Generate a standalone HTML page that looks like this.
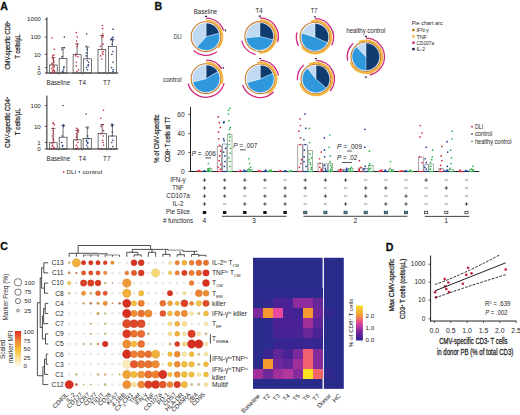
<!DOCTYPE html>
<html><head><meta charset="utf-8"><style>
html,body{margin:0;padding:0;background:#fff;width:520px;height:415px;overflow:hidden}
svg{display:block}
text{font-family:"Liberation Sans", sans-serif}
</style></head><body>
<svg width="520" height="415" viewBox="0 0 520 415">
<rect width="520" height="415" fill="#fff"/>
<text x="0.20" y="9.60" font-size="10.6" text-anchor="start" fill="#111" stroke="#111" stroke-width="0.3" font-weight="bold" >A</text>
<text x="154.60" y="9.90" font-size="10.6" text-anchor="start" fill="#111" stroke="#111" stroke-width="0.3" font-weight="bold" >B</text>
<text x="0.30" y="250.00" font-size="10.6" text-anchor="start" fill="#111" stroke="#111" stroke-width="0.3" font-weight="bold" >C</text>
<text x="385.70" y="250.90" font-size="10.6" text-anchor="start" fill="#111" stroke="#111" stroke-width="0.3" font-weight="bold" >D</text>
<line x1="46.90" y1="17.30" x2="46.90" y2="73.40" stroke="#222" stroke-width="1.0" />
<line x1="46.40" y1="73.00" x2="118.20" y2="73.00" stroke="#222" stroke-width="1.0" />
<line x1="44.70" y1="73.00" x2="46.90" y2="73.00" stroke="#222" stroke-width="0.7" />
<text x="40.80" y="75.20" font-size="6.2" text-anchor="end" fill="#262626" >0</text>
<line x1="44.70" y1="67.61" x2="46.90" y2="67.61" stroke="#222" stroke-width="0.7" />
<text x="40.80" y="69.81" font-size="6.2" text-anchor="end" fill="#262626" >1</text>
<line x1="44.70" y1="54.36" x2="46.90" y2="54.36" stroke="#222" stroke-width="0.7" />
<text x="40.80" y="56.56" font-size="6.2" text-anchor="end" fill="#262626" >10</text>
<line x1="44.70" y1="37.12" x2="46.90" y2="37.12" stroke="#222" stroke-width="0.7" />
<text x="40.80" y="39.32" font-size="6.2" text-anchor="end" fill="#262626" >100</text>
<line x1="44.70" y1="19.29" x2="46.90" y2="19.29" stroke="#222" stroke-width="0.7" />
<text x="40.80" y="21.49" font-size="6.2" text-anchor="end" fill="#262626" >1000</text>
<line x1="58.30" y1="73.00" x2="58.30" y2="74.60" stroke="#222" stroke-width="0.6" />
<line x1="82.30" y1="73.00" x2="82.30" y2="74.60" stroke="#222" stroke-width="0.6" />
<line x1="107.00" y1="73.00" x2="107.00" y2="74.60" stroke="#222" stroke-width="0.6" />
<line x1="53.40" y1="65.00" x2="53.40" y2="57.50" stroke="#333" stroke-width="0.7" />
<line x1="51.40" y1="57.50" x2="55.40" y2="57.50" stroke="#333" stroke-width="0.7" />
<rect x="49.60" y="65.00" width="7.60" height="8.00" fill="none" stroke="#2a2a2a" stroke-width="0.65" />
<line x1="63.05" y1="58.50" x2="63.05" y2="47.60" stroke="#333" stroke-width="0.7" />
<line x1="61.05" y1="47.60" x2="65.05" y2="47.60" stroke="#333" stroke-width="0.7" />
<rect x="59.20" y="58.50" width="7.70" height="14.50" fill="none" stroke="#2a2a2a" stroke-width="0.65" />
<line x1="77.10" y1="54.70" x2="77.10" y2="43.90" stroke="#333" stroke-width="0.7" />
<line x1="75.10" y1="43.90" x2="79.10" y2="43.90" stroke="#333" stroke-width="0.7" />
<rect x="73.10" y="54.70" width="8.00" height="18.30" fill="none" stroke="#2a2a2a" stroke-width="0.65" />
<line x1="87.40" y1="58.80" x2="87.40" y2="47.00" stroke="#333" stroke-width="0.7" />
<line x1="85.40" y1="47.00" x2="89.40" y2="47.00" stroke="#333" stroke-width="0.7" />
<rect x="83.40" y="58.80" width="8.00" height="14.20" fill="none" stroke="#2a2a2a" stroke-width="0.65" />
<line x1="101.90" y1="49.40" x2="101.90" y2="35.50" stroke="#333" stroke-width="0.7" />
<line x1="99.90" y1="35.50" x2="103.90" y2="35.50" stroke="#333" stroke-width="0.7" />
<rect x="98.00" y="49.40" width="7.80" height="23.60" fill="none" stroke="#2a2a2a" stroke-width="0.65" />
<line x1="112.35" y1="46.40" x2="112.35" y2="39.50" stroke="#333" stroke-width="0.7" />
<line x1="110.35" y1="39.50" x2="114.35" y2="39.50" stroke="#333" stroke-width="0.7" />
<rect x="108.40" y="46.40" width="7.90" height="26.60" fill="none" stroke="#2a2a2a" stroke-width="0.65" />
<circle cx="52.18" cy="37.93" r="0.80" fill="#c0283c" stroke="none" stroke-width="0.5"/>
<circle cx="54.17" cy="49.33" r="0.80" fill="#c0283c" stroke="none" stroke-width="0.5"/>
<circle cx="53.94" cy="55.10" r="0.80" fill="#c0283c" stroke="none" stroke-width="0.5"/>
<circle cx="52.51" cy="55.92" r="0.80" fill="#c0283c" stroke="none" stroke-width="0.5"/>
<circle cx="53.19" cy="57.87" r="0.80" fill="#c0283c" stroke="none" stroke-width="0.5"/>
<circle cx="53.06" cy="59.07" r="0.80" fill="#c0283c" stroke="none" stroke-width="0.5"/>
<circle cx="53.62" cy="60.49" r="0.80" fill="#c0283c" stroke="none" stroke-width="0.5"/>
<circle cx="54.01" cy="62.22" r="0.80" fill="#c0283c" stroke="none" stroke-width="0.5"/>
<circle cx="52.06" cy="63.26" r="0.80" fill="#c0283c" stroke="none" stroke-width="0.5"/>
<circle cx="51.88" cy="64.46" r="0.80" fill="#c0283c" stroke="none" stroke-width="0.5"/>
<circle cx="54.14" cy="65.88" r="0.80" fill="#c0283c" stroke="none" stroke-width="0.5"/>
<circle cx="53.01" cy="66.87" r="0.80" fill="#c0283c" stroke="none" stroke-width="0.5"/>
<circle cx="53.93" cy="67.61" r="0.80" fill="#c0283c" stroke="none" stroke-width="0.5"/>
<circle cx="51.81" cy="68.43" r="0.80" fill="#c0283c" stroke="none" stroke-width="0.5"/>
<circle cx="53.05" cy="69.85" r="0.80" fill="#c0283c" stroke="none" stroke-width="0.5"/>
<circle cx="53.82" cy="70.38" r="0.80" fill="#c0283c" stroke="none" stroke-width="0.5"/>
<circle cx="52.44" cy="70.96" r="0.80" fill="#c0283c" stroke="none" stroke-width="0.5"/>
<circle cx="54.45" cy="71.58" r="0.80" fill="#c0283c" stroke="none" stroke-width="0.5"/>
<circle cx="54.32" cy="72.26" r="0.80" fill="#c0283c" stroke="none" stroke-width="0.5"/>
<circle cx="51.89" cy="73.00" r="0.80" fill="#c0283c" stroke="none" stroke-width="0.5"/>
<circle cx="64.38" cy="37.12" r="0.80" fill="#1f3f78" stroke="none" stroke-width="0.5"/>
<circle cx="64.35" cy="47.67" r="0.80" fill="#1f3f78" stroke="none" stroke-width="0.5"/>
<circle cx="61.86" cy="49.33" r="0.80" fill="#1f3f78" stroke="none" stroke-width="0.5"/>
<circle cx="61.94" cy="56.83" r="0.80" fill="#1f3f78" stroke="none" stroke-width="0.5"/>
<circle cx="64.04" cy="66.87" r="0.80" fill="#1f3f78" stroke="none" stroke-width="0.5"/>
<circle cx="63.76" cy="67.61" r="0.80" fill="#1f3f78" stroke="none" stroke-width="0.5"/>
<circle cx="63.58" cy="69.85" r="0.80" fill="#1f3f78" stroke="none" stroke-width="0.5"/>
<circle cx="62.56" cy="71.58" r="0.80" fill="#1f3f78" stroke="none" stroke-width="0.5"/>
<circle cx="63.40" cy="72.26" r="0.80" fill="#1f3f78" stroke="none" stroke-width="0.5"/>
<circle cx="76.27" cy="32.59" r="0.80" fill="#c0283c" stroke="none" stroke-width="0.5"/>
<circle cx="77.12" cy="37.12" r="0.80" fill="#c0283c" stroke="none" stroke-width="0.5"/>
<circle cx="76.64" cy="41.04" r="0.80" fill="#c0283c" stroke="none" stroke-width="0.5"/>
<circle cx="77.29" cy="44.13" r="0.80" fill="#c0283c" stroke="none" stroke-width="0.5"/>
<circle cx="77.35" cy="46.30" r="0.80" fill="#c0283c" stroke="none" stroke-width="0.5"/>
<circle cx="75.78" cy="54.36" r="0.80" fill="#c0283c" stroke="none" stroke-width="0.5"/>
<circle cx="75.64" cy="55.92" r="0.80" fill="#c0283c" stroke="none" stroke-width="0.5"/>
<circle cx="77.94" cy="56.83" r="0.80" fill="#c0283c" stroke="none" stroke-width="0.5"/>
<circle cx="76.33" cy="62.22" r="0.80" fill="#c0283c" stroke="none" stroke-width="0.5"/>
<circle cx="76.26" cy="65.88" r="0.80" fill="#c0283c" stroke="none" stroke-width="0.5"/>
<circle cx="78.39" cy="69.85" r="0.80" fill="#c0283c" stroke="none" stroke-width="0.5"/>
<circle cx="76.92" cy="71.58" r="0.80" fill="#c0283c" stroke="none" stroke-width="0.5"/>
<circle cx="86.66" cy="34.00" r="0.80" fill="#1f3f78" stroke="none" stroke-width="0.5"/>
<circle cx="86.29" cy="46.30" r="0.80" fill="#1f3f78" stroke="none" stroke-width="0.5"/>
<circle cx="87.11" cy="49.33" r="0.80" fill="#1f3f78" stroke="none" stroke-width="0.5"/>
<circle cx="86.43" cy="53.06" r="0.80" fill="#1f3f78" stroke="none" stroke-width="0.5"/>
<circle cx="86.19" cy="55.92" r="0.80" fill="#1f3f78" stroke="none" stroke-width="0.5"/>
<circle cx="87.12" cy="60.49" r="0.80" fill="#1f3f78" stroke="none" stroke-width="0.5"/>
<circle cx="88.57" cy="62.22" r="0.80" fill="#1f3f78" stroke="none" stroke-width="0.5"/>
<circle cx="88.24" cy="64.46" r="0.80" fill="#1f3f78" stroke="none" stroke-width="0.5"/>
<circle cx="88.14" cy="65.88" r="0.80" fill="#1f3f78" stroke="none" stroke-width="0.5"/>
<circle cx="86.62" cy="67.61" r="0.80" fill="#1f3f78" stroke="none" stroke-width="0.5"/>
<circle cx="87.50" cy="69.85" r="0.80" fill="#1f3f78" stroke="none" stroke-width="0.5"/>
<circle cx="102.24" cy="25.49" r="0.80" fill="#c0283c" stroke="none" stroke-width="0.5"/>
<circle cx="102.58" cy="28.63" r="0.80" fill="#c0283c" stroke="none" stroke-width="0.5"/>
<circle cx="102.73" cy="34.00" r="0.80" fill="#c0283c" stroke="none" stroke-width="0.5"/>
<circle cx="103.14" cy="35.72" r="0.80" fill="#c0283c" stroke="none" stroke-width="0.5"/>
<circle cx="102.57" cy="37.12" r="0.80" fill="#c0283c" stroke="none" stroke-width="0.5"/>
<circle cx="103.08" cy="44.13" r="0.80" fill="#c0283c" stroke="none" stroke-width="0.5"/>
<circle cx="100.58" cy="46.30" r="0.80" fill="#c0283c" stroke="none" stroke-width="0.5"/>
<circle cx="101.80" cy="49.33" r="0.80" fill="#c0283c" stroke="none" stroke-width="0.5"/>
<circle cx="103.14" cy="51.45" r="0.80" fill="#c0283c" stroke="none" stroke-width="0.5"/>
<circle cx="102.32" cy="53.06" r="0.80" fill="#c0283c" stroke="none" stroke-width="0.5"/>
<circle cx="103.02" cy="54.36" r="0.80" fill="#c0283c" stroke="none" stroke-width="0.5"/>
<circle cx="100.82" cy="55.92" r="0.80" fill="#c0283c" stroke="none" stroke-width="0.5"/>
<circle cx="101.81" cy="59.07" r="0.80" fill="#c0283c" stroke="none" stroke-width="0.5"/>
<circle cx="113.12" cy="29.17" r="0.80" fill="#1f3f78" stroke="none" stroke-width="0.5"/>
<circle cx="113.20" cy="37.12" r="0.80" fill="#1f3f78" stroke="none" stroke-width="0.5"/>
<circle cx="112.26" cy="37.93" r="0.80" fill="#1f3f78" stroke="none" stroke-width="0.5"/>
<circle cx="111.63" cy="38.84" r="0.80" fill="#1f3f78" stroke="none" stroke-width="0.5"/>
<circle cx="110.90" cy="39.86" r="0.80" fill="#1f3f78" stroke="none" stroke-width="0.5"/>
<circle cx="112.76" cy="41.04" r="0.80" fill="#1f3f78" stroke="none" stroke-width="0.5"/>
<circle cx="112.22" cy="44.13" r="0.80" fill="#1f3f78" stroke="none" stroke-width="0.5"/>
<circle cx="113.03" cy="51.45" r="0.80" fill="#1f3f78" stroke="none" stroke-width="0.5"/>
<circle cx="111.94" cy="54.36" r="0.80" fill="#1f3f78" stroke="none" stroke-width="0.5"/>
<circle cx="113.06" cy="62.22" r="0.80" fill="#1f3f78" stroke="none" stroke-width="0.5"/>
<circle cx="111.66" cy="67.61" r="0.80" fill="#1f3f78" stroke="none" stroke-width="0.5"/>
<circle cx="113.15" cy="69.85" r="0.80" fill="#1f3f78" stroke="none" stroke-width="0.5"/>
<circle cx="112.94" cy="71.58" r="0.80" fill="#1f3f78" stroke="none" stroke-width="0.5"/>
<text x="58.30" y="85.40" font-size="6.3" text-anchor="middle" fill="#262626" textLength="23.5" lengthAdjust="spacingAndGlyphs" >Baseline</text>
<text x="82.30" y="85.40" font-size="6.3" text-anchor="middle" fill="#262626" >T4</text>
<text x="106.80" y="85.40" font-size="6.3" text-anchor="middle" fill="#262626" >T7</text>
<text x="10.30" y="45.30" font-size="7.1" text-anchor="middle" fill="#262626" stroke="#262626" stroke-width="0.24" textLength="48.5" lengthAdjust="spacingAndGlyphs" transform="rotate(-90 10.30 45.30)" >CMV-specific CD8<tspan font-size="4.2" baseline-shift="2.4">+</tspan></text>
<text x="20.40" y="46.40" font-size="7.1" text-anchor="middle" fill="#262626" stroke="#262626" stroke-width="0.24" textLength="24.2" lengthAdjust="spacingAndGlyphs" transform="rotate(-90 20.40 46.40)" >T cells/µL</text>
<line x1="46.90" y1="95.60" x2="46.90" y2="149.40" stroke="#222" stroke-width="1.0" />
<line x1="46.40" y1="149.00" x2="118.20" y2="149.00" stroke="#222" stroke-width="1.0" />
<line x1="44.70" y1="149.00" x2="46.90" y2="149.00" stroke="#222" stroke-width="0.7" />
<text x="40.80" y="151.20" font-size="6.2" text-anchor="end" fill="#262626" >0</text>
<line x1="44.70" y1="142.47" x2="46.90" y2="142.47" stroke="#222" stroke-width="0.7" />
<text x="40.80" y="144.67" font-size="6.2" text-anchor="end" fill="#262626" >1</text>
<line x1="44.70" y1="126.40" x2="46.90" y2="126.40" stroke="#222" stroke-width="0.7" />
<text x="40.80" y="128.60" font-size="6.2" text-anchor="end" fill="#262626" >10</text>
<line x1="44.70" y1="105.51" x2="46.90" y2="105.51" stroke="#222" stroke-width="0.7" />
<text x="40.80" y="107.71" font-size="6.2" text-anchor="end" fill="#262626" >100</text>
<line x1="58.30" y1="149.00" x2="58.30" y2="150.60" stroke="#222" stroke-width="0.6" />
<line x1="82.30" y1="149.00" x2="82.30" y2="150.60" stroke="#222" stroke-width="0.6" />
<line x1="107.00" y1="149.00" x2="107.00" y2="150.60" stroke="#222" stroke-width="0.6" />
<line x1="53.25" y1="142.70" x2="53.25" y2="128.50" stroke="#333" stroke-width="0.7" />
<line x1="51.25" y1="128.50" x2="55.25" y2="128.50" stroke="#333" stroke-width="0.7" />
<rect x="49.40" y="142.70" width="7.70" height="6.30" fill="none" stroke="#2a2a2a" stroke-width="0.65" />
<line x1="63.10" y1="137.20" x2="63.10" y2="125.50" stroke="#333" stroke-width="0.7" />
<line x1="61.10" y1="125.50" x2="65.10" y2="125.50" stroke="#333" stroke-width="0.7" />
<rect x="59.20" y="137.20" width="7.80" height="11.80" fill="none" stroke="#2a2a2a" stroke-width="0.65" />
<line x1="77.30" y1="139.80" x2="77.30" y2="130.50" stroke="#333" stroke-width="0.7" />
<line x1="75.30" y1="130.50" x2="79.30" y2="130.50" stroke="#333" stroke-width="0.7" />
<rect x="73.50" y="139.80" width="7.60" height="9.20" fill="none" stroke="#2a2a2a" stroke-width="0.65" />
<line x1="87.20" y1="138.50" x2="87.20" y2="127.00" stroke="#333" stroke-width="0.7" />
<line x1="85.20" y1="127.00" x2="89.20" y2="127.00" stroke="#333" stroke-width="0.7" />
<rect x="83.10" y="138.50" width="8.20" height="10.50" fill="none" stroke="#2a2a2a" stroke-width="0.65" />
<line x1="102.20" y1="133.60" x2="102.20" y2="124.50" stroke="#333" stroke-width="0.7" />
<line x1="100.20" y1="124.50" x2="104.20" y2="124.50" stroke="#333" stroke-width="0.7" />
<rect x="98.10" y="133.60" width="8.20" height="15.40" fill="none" stroke="#2a2a2a" stroke-width="0.65" />
<line x1="112.40" y1="136.00" x2="112.40" y2="125.00" stroke="#333" stroke-width="0.7" />
<line x1="110.40" y1="125.00" x2="114.40" y2="125.00" stroke="#333" stroke-width="0.7" />
<rect x="108.50" y="136.00" width="7.80" height="13.00" fill="none" stroke="#2a2a2a" stroke-width="0.65" />
<circle cx="53.07" cy="122.87" r="0.80" fill="#c0283c" stroke="none" stroke-width="0.5"/>
<circle cx="53.37" cy="123.48" r="0.80" fill="#c0283c" stroke="none" stroke-width="0.5"/>
<circle cx="54.39" cy="124.83" r="0.80" fill="#c0283c" stroke="none" stroke-width="0.5"/>
<circle cx="53.10" cy="128.29" r="0.80" fill="#c0283c" stroke="none" stroke-width="0.5"/>
<circle cx="53.22" cy="130.66" r="0.80" fill="#c0283c" stroke="none" stroke-width="0.5"/>
<circle cx="53.44" cy="133.83" r="0.80" fill="#c0283c" stroke="none" stroke-width="0.5"/>
<circle cx="52.32" cy="135.94" r="0.80" fill="#c0283c" stroke="none" stroke-width="0.5"/>
<circle cx="53.23" cy="138.65" r="0.80" fill="#c0283c" stroke="none" stroke-width="0.5"/>
<circle cx="53.56" cy="140.36" r="0.80" fill="#c0283c" stroke="none" stroke-width="0.5"/>
<circle cx="54.02" cy="142.47" r="0.80" fill="#c0283c" stroke="none" stroke-width="0.5"/>
<circle cx="52.06" cy="143.46" r="0.80" fill="#c0283c" stroke="none" stroke-width="0.5"/>
<circle cx="52.65" cy="145.18" r="0.80" fill="#c0283c" stroke="none" stroke-width="0.5"/>
<circle cx="52.05" cy="146.53" r="0.80" fill="#c0283c" stroke="none" stroke-width="0.5"/>
<circle cx="54.07" cy="147.28" r="0.80" fill="#c0283c" stroke="none" stroke-width="0.5"/>
<circle cx="53.74" cy="148.10" r="0.80" fill="#c0283c" stroke="none" stroke-width="0.5"/>
<circle cx="51.92" cy="149.00" r="0.80" fill="#c0283c" stroke="none" stroke-width="0.5"/>
<circle cx="63.03" cy="105.51" r="0.80" fill="#1f3f78" stroke="none" stroke-width="0.5"/>
<circle cx="63.54" cy="124.83" r="0.80" fill="#1f3f78" stroke="none" stroke-width="0.5"/>
<circle cx="63.57" cy="126.40" r="0.80" fill="#1f3f78" stroke="none" stroke-width="0.5"/>
<circle cx="62.10" cy="135.94" r="0.80" fill="#1f3f78" stroke="none" stroke-width="0.5"/>
<circle cx="61.73" cy="142.47" r="0.80" fill="#1f3f78" stroke="none" stroke-width="0.5"/>
<circle cx="62.75" cy="145.18" r="0.80" fill="#1f3f78" stroke="none" stroke-width="0.5"/>
<circle cx="62.47" cy="146.53" r="0.80" fill="#1f3f78" stroke="none" stroke-width="0.5"/>
<circle cx="63.97" cy="149.00" r="0.80" fill="#1f3f78" stroke="none" stroke-width="0.5"/>
<circle cx="76.63" cy="128.29" r="0.80" fill="#c0283c" stroke="none" stroke-width="0.5"/>
<circle cx="77.82" cy="129.40" r="0.80" fill="#c0283c" stroke="none" stroke-width="0.5"/>
<circle cx="77.82" cy="130.66" r="0.80" fill="#c0283c" stroke="none" stroke-width="0.5"/>
<circle cx="78.28" cy="132.11" r="0.80" fill="#c0283c" stroke="none" stroke-width="0.5"/>
<circle cx="76.42" cy="133.83" r="0.80" fill="#c0283c" stroke="none" stroke-width="0.5"/>
<circle cx="76.55" cy="135.94" r="0.80" fill="#c0283c" stroke="none" stroke-width="0.5"/>
<circle cx="76.31" cy="137.19" r="0.80" fill="#c0283c" stroke="none" stroke-width="0.5"/>
<circle cx="76.53" cy="140.36" r="0.80" fill="#c0283c" stroke="none" stroke-width="0.5"/>
<circle cx="77.96" cy="142.47" r="0.80" fill="#c0283c" stroke="none" stroke-width="0.5"/>
<circle cx="76.26" cy="145.18" r="0.80" fill="#c0283c" stroke="none" stroke-width="0.5"/>
<circle cx="77.39" cy="147.28" r="0.80" fill="#c0283c" stroke="none" stroke-width="0.5"/>
<circle cx="76.50" cy="149.00" r="0.80" fill="#c0283c" stroke="none" stroke-width="0.5"/>
<circle cx="86.10" cy="114.00" r="0.80" fill="#1f3f78" stroke="none" stroke-width="0.5"/>
<circle cx="87.77" cy="128.29" r="0.80" fill="#1f3f78" stroke="none" stroke-width="0.5"/>
<circle cx="87.63" cy="135.94" r="0.80" fill="#1f3f78" stroke="none" stroke-width="0.5"/>
<circle cx="88.43" cy="138.65" r="0.80" fill="#1f3f78" stroke="none" stroke-width="0.5"/>
<circle cx="86.56" cy="140.36" r="0.80" fill="#1f3f78" stroke="none" stroke-width="0.5"/>
<circle cx="86.52" cy="141.57" r="0.80" fill="#1f3f78" stroke="none" stroke-width="0.5"/>
<circle cx="87.86" cy="142.47" r="0.80" fill="#1f3f78" stroke="none" stroke-width="0.5"/>
<circle cx="87.64" cy="143.46" r="0.80" fill="#1f3f78" stroke="none" stroke-width="0.5"/>
<circle cx="86.65" cy="145.18" r="0.80" fill="#1f3f78" stroke="none" stroke-width="0.5"/>
<circle cx="87.72" cy="147.28" r="0.80" fill="#1f3f78" stroke="none" stroke-width="0.5"/>
<circle cx="103.50" cy="110.26" r="0.80" fill="#c0283c" stroke="none" stroke-width="0.5"/>
<circle cx="100.83" cy="118.30" r="0.80" fill="#c0283c" stroke="none" stroke-width="0.5"/>
<circle cx="102.86" cy="124.83" r="0.80" fill="#c0283c" stroke="none" stroke-width="0.5"/>
<circle cx="101.24" cy="126.40" r="0.80" fill="#c0283c" stroke="none" stroke-width="0.5"/>
<circle cx="103.56" cy="130.66" r="0.80" fill="#c0283c" stroke="none" stroke-width="0.5"/>
<circle cx="100.85" cy="133.83" r="0.80" fill="#c0283c" stroke="none" stroke-width="0.5"/>
<circle cx="103.26" cy="135.94" r="0.80" fill="#c0283c" stroke="none" stroke-width="0.5"/>
<circle cx="102.71" cy="140.36" r="0.80" fill="#c0283c" stroke="none" stroke-width="0.5"/>
<circle cx="103.20" cy="142.47" r="0.80" fill="#c0283c" stroke="none" stroke-width="0.5"/>
<circle cx="103.60" cy="145.18" r="0.80" fill="#c0283c" stroke="none" stroke-width="0.5"/>
<circle cx="101.47" cy="149.00" r="0.80" fill="#c0283c" stroke="none" stroke-width="0.5"/>
<circle cx="112.01" cy="124.13" r="0.80" fill="#1f3f78" stroke="none" stroke-width="0.5"/>
<circle cx="112.35" cy="124.83" r="0.80" fill="#1f3f78" stroke="none" stroke-width="0.5"/>
<circle cx="112.17" cy="126.40" r="0.80" fill="#1f3f78" stroke="none" stroke-width="0.5"/>
<circle cx="112.25" cy="132.11" r="0.80" fill="#1f3f78" stroke="none" stroke-width="0.5"/>
<circle cx="112.15" cy="135.94" r="0.80" fill="#1f3f78" stroke="none" stroke-width="0.5"/>
<circle cx="112.84" cy="140.36" r="0.80" fill="#1f3f78" stroke="none" stroke-width="0.5"/>
<circle cx="111.72" cy="142.47" r="0.80" fill="#1f3f78" stroke="none" stroke-width="0.5"/>
<circle cx="112.78" cy="146.53" r="0.80" fill="#1f3f78" stroke="none" stroke-width="0.5"/>
<circle cx="111.03" cy="149.00" r="0.80" fill="#1f3f78" stroke="none" stroke-width="0.5"/>
<text x="58.30" y="161.30" font-size="6.3" text-anchor="middle" fill="#262626" textLength="23.5" lengthAdjust="spacingAndGlyphs" >Baseline</text>
<text x="82.30" y="161.30" font-size="6.3" text-anchor="middle" fill="#262626" >T4</text>
<text x="106.80" y="161.30" font-size="6.3" text-anchor="middle" fill="#262626" >T7</text>
<text x="10.30" y="122.40" font-size="7.1" text-anchor="middle" fill="#262626" stroke="#262626" stroke-width="0.24" textLength="50.8" lengthAdjust="spacingAndGlyphs" transform="rotate(-90 10.30 122.40)" >CMV-specific CD4<tspan font-size="4.2" baseline-shift="2.4">+</tspan></text>
<text x="20.40" y="121.70" font-size="7.1" text-anchor="middle" fill="#262626" stroke="#262626" stroke-width="0.24" textLength="27.0" lengthAdjust="spacingAndGlyphs" transform="rotate(-90 20.40 121.70)" >T cells/µL</text>
<circle cx="63.70" cy="171.90" r="0.80" fill="#c0283c" stroke="none" stroke-width="0.5"/>
<text x="66.60" y="174.10" font-size="6.2" text-anchor="start" fill="#262626" >DLI</text>
<circle cx="79.40" cy="171.90" r="0.80" fill="#1f3f78" stroke="none" stroke-width="0.5"/>
<text x="82.50" y="174.10" font-size="6.2" text-anchor="start" fill="#262626" textLength="19.6" lengthAdjust="spacingAndGlyphs" >control</text>
<path d="M206.05,36.70 L206.05,23.00 A13.7,13.7 0 0 1 219.28,33.15 Z" fill="#0f3c70" stroke="#fff" stroke-width="0.3"/>
<path d="M206.05,36.70 L219.28,33.15 A13.7,13.7 0 0 1 196.88,46.88 Z" fill="#2f98dc" stroke="#fff" stroke-width="0.3"/>
<path d="M206.05,36.70 L196.88,46.88 A13.7,13.7 0 0 1 206.05,23.00 Z" fill="#bfdaf2" stroke="#fff" stroke-width="0.3"/>
<circle cx="206.05" cy="36.70" r="14.90" fill="none" stroke="#c47a2a" stroke-width="1.1"/>
<path d="M206.05,20.40 A16.3,16.3 0 0 1 217.97,47.82" fill="none" stroke="#f6b53c" stroke-width="2.0"/>
<path d="M206.05,18.10 A18.6,18.6 0 0 1 223.64,30.64" fill="none" stroke="#d02a7e" stroke-width="1.3"/>
<path d="M216.98,51.75 A18.6,18.6 0 0 1 193.60,50.52" fill="none" stroke="#d02a7e" stroke-width="1.3"/>
<path d="M204.98,16.33 A20.4,20.4 0 0 1 207.12,16.33" fill="none" stroke="#2c1a4d" stroke-width="1.2"/>
<path d="M225.10,29.39 A20.4,20.4 0 0 1 225.75,31.42" fill="none" stroke="#2c1a4d" stroke-width="1.2"/>
<path d="M259.80,36.50 L259.80,22.80 A13.7,13.7 0 0 1 273.09,39.81 Z" fill="#0f3c70" stroke="#fff" stroke-width="0.3"/>
<path d="M259.80,36.50 L273.09,39.81 A13.7,13.7 0 0 1 246.15,37.69 Z" fill="#2f98dc" stroke="#fff" stroke-width="0.3"/>
<path d="M259.80,36.50 L246.15,37.69 A13.7,13.7 0 0 1 259.80,22.80 Z" fill="#bfdaf2" stroke="#fff" stroke-width="0.3"/>
<circle cx="259.80" cy="36.50" r="14.90" fill="none" stroke="#c47a2a" stroke-width="1.1"/>
<path d="M259.80,20.20 A16.3,16.3 0 1 1 259.23,52.79" fill="none" stroke="#f6b53c" stroke-width="2.0"/>
<path d="M259.80,17.90 A18.6,18.6 0 0 1 277.59,41.94" fill="none" stroke="#d02a7e" stroke-width="1.3"/>
<path d="M255.62,54.62 A18.6,18.6 0 0 1 241.68,40.68" fill="none" stroke="#d02a7e" stroke-width="1.3"/>
<path d="M258.73,16.13 A20.4,20.4 0 0 1 260.87,16.13" fill="none" stroke="#2c1a4d" stroke-width="1.2"/>
<path d="M314.95,37.20 L314.95,23.50 A13.7,13.7 0 0 1 327.47,42.77 Z" fill="#0f3c70" stroke="#fff" stroke-width="0.3"/>
<path d="M314.95,37.20 L327.47,42.77 A13.7,13.7 0 0 1 301.92,32.97 Z" fill="#2f98dc" stroke="#fff" stroke-width="0.3"/>
<path d="M314.95,37.20 L301.92,32.97 A13.7,13.7 0 0 1 314.95,23.50 Z" fill="#bfdaf2" stroke="#fff" stroke-width="0.3"/>
<circle cx="314.95" cy="37.20" r="14.90" fill="none" stroke="#c47a2a" stroke-width="1.1"/>
<path d="M311.01,21.38 A16.3,16.3 0 1 1 301.76,46.78" fill="none" stroke="#f6b53c" stroke-width="2.0"/>
<path d="M314.95,18.60 A18.6,18.6 0 0 1 331.67,45.35" fill="none" stroke="#d02a7e" stroke-width="1.3"/>
<path d="M298.53,45.93 A18.6,18.6 0 0 1 296.98,32.39" fill="none" stroke="#d02a7e" stroke-width="1.3"/>
<path d="M314.06,16.82 A20.4,20.4 0 0 1 315.84,16.82" fill="none" stroke="#2c1a4d" stroke-width="1.2"/>
<path d="M206.05,78.70 L206.05,65.00 A13.7,13.7 0 0 1 217.79,71.64 Z" fill="#0f3c70" stroke="#fff" stroke-width="0.3"/>
<path d="M206.05,78.70 L217.79,71.64 A13.7,13.7 0 1 1 192.76,82.01 Z" fill="#2f98dc" stroke="#fff" stroke-width="0.3"/>
<path d="M206.05,78.70 L192.76,82.01 A13.7,13.7 0 0 1 206.05,65.00 Z" fill="#bfdaf2" stroke="#fff" stroke-width="0.3"/>
<circle cx="206.05" cy="78.70" r="14.90" fill="none" stroke="#c47a2a" stroke-width="1.1"/>
<path d="M206.05,62.40 A16.3,16.3 0 0 1 221.55,83.74" fill="none" stroke="#f6b53c" stroke-width="2.0"/>
<path d="M206.05,60.10 A18.6,18.6 0 0 1 221.82,68.84" fill="none" stroke="#d02a7e" stroke-width="1.3"/>
<path d="M224.10,83.20 A18.6,18.6 0 0 1 188.08,83.51" fill="none" stroke="#d02a7e" stroke-width="1.3"/>
<path d="M222.76,67.00 A20.4,20.4 0 0 1 223.89,68.81" fill="none" stroke="#2c1a4d" stroke-width="1.2"/>
<path d="M260.20,78.90 L260.20,65.20 A13.7,13.7 0 0 1 272.81,73.55 Z" fill="#0f3c70" stroke="#fff" stroke-width="0.3"/>
<path d="M260.20,78.90 L272.81,73.55 A13.7,13.7 0 1 1 247.03,82.68 Z" fill="#2f98dc" stroke="#fff" stroke-width="0.3"/>
<path d="M260.20,78.90 L247.03,82.68 A13.7,13.7 0 0 1 260.20,65.20 Z" fill="#bfdaf2" stroke="#fff" stroke-width="0.3"/>
<circle cx="260.20" cy="78.90" r="14.90" fill="none" stroke="#c47a2a" stroke-width="1.1"/>
<path d="M257.37,62.85 A16.3,16.3 0 0 1 267.85,93.29" fill="none" stroke="#f6b53c" stroke-width="2.0"/>
<path d="M260.20,60.30 A18.6,18.6 0 0 1 278.52,75.67" fill="none" stroke="#d02a7e" stroke-width="1.3"/>
<path d="M273.58,91.82 A18.6,18.6 0 0 1 242.61,84.96" fill="none" stroke="#d02a7e" stroke-width="1.3"/>
<path d="M259.31,58.52 A20.4,20.4 0 0 1 261.09,58.52" fill="none" stroke="#2c1a4d" stroke-width="1.2"/>
<path d="M315.95,79.00 L315.95,65.30 A13.7,13.7 0 0 1 326.13,88.17 Z" fill="#0f3c70" stroke="#fff" stroke-width="0.3"/>
<path d="M315.95,79.00 L326.13,88.17 A13.7,13.7 0 1 1 307.52,68.20 Z" fill="#2f98dc" stroke="#fff" stroke-width="0.3"/>
<path d="M315.95,79.00 L307.52,68.20 A13.7,13.7 0 0 1 315.95,65.30 Z" fill="#bfdaf2" stroke="#fff" stroke-width="0.3"/>
<circle cx="315.95" cy="79.00" r="14.90" fill="none" stroke="#c47a2a" stroke-width="1.1"/>
<path d="M309.06,64.23 A16.3,16.3 0 1 1 300.21,83.22" fill="none" stroke="#f6b53c" stroke-width="2.0"/>
<path d="M315.95,60.40 A18.6,18.6 0 0 1 330.20,90.96" fill="none" stroke="#d02a7e" stroke-width="1.3"/>
<path d="M297.40,80.30 A18.6,18.6 0 0 1 303.75,64.96" fill="none" stroke="#d02a7e" stroke-width="1.3"/>
<path d="M315.06,58.62 A20.4,20.4 0 0 1 316.84,58.62" fill="none" stroke="#2c1a4d" stroke-width="1.2"/>
<path d="M365.90,56.80 L365.90,43.10 A13.7,13.7 0 0 1 365.90,70.50 Z" fill="#0f3c70" stroke="#fff" stroke-width="0.3"/>
<path d="M365.90,56.80 L365.90,70.50 A13.7,13.7 0 0 1 356.56,46.78 Z" fill="#2f98dc" stroke="#fff" stroke-width="0.3"/>
<path d="M365.90,56.80 L356.56,46.78 A13.7,13.7 0 0 1 365.90,43.10 Z" fill="#bfdaf2" stroke="#fff" stroke-width="0.3"/>
<circle cx="365.90" cy="56.80" r="14.90" fill="none" stroke="#c47a2a" stroke-width="1.1"/>
<path d="M359.01,42.03 A16.3,16.3 0 1 1 350.58,62.37" fill="none" stroke="#f6b53c" stroke-width="2.0"/>
<path d="M365.90,38.20 A18.6,18.6 0 0 1 369.77,74.99" fill="none" stroke="#d02a7e" stroke-width="1.3"/>
<path d="M347.71,60.67 A18.6,18.6 0 0 1 353.21,43.20" fill="none" stroke="#d02a7e" stroke-width="1.3"/>
<path d="M364.83,36.43 A20.4,20.4 0 0 1 366.97,36.43" fill="none" stroke="#2c1a4d" stroke-width="1.2"/>
<path d="M366.97,77.17 A20.4,20.4 0 0 1 364.83,77.17" fill="none" stroke="#2c1a4d" stroke-width="1.2"/>
<text x="205.50" y="13.50" font-size="7.0" text-anchor="middle" fill="#262626" textLength="23.5" lengthAdjust="spacingAndGlyphs" >Baseline</text>
<text x="259.00" y="13.10" font-size="7.0" text-anchor="middle" fill="#262626" textLength="7.0" lengthAdjust="spacingAndGlyphs" >T4</text>
<text x="314.00" y="13.10" font-size="7.0" text-anchor="middle" fill="#262626" textLength="6.6" lengthAdjust="spacingAndGlyphs" >T7</text>
<text x="181.60" y="38.90" font-size="7.0" text-anchor="end" fill="#262626" textLength="7.8" lengthAdjust="spacingAndGlyphs" >DLI</text>
<text x="181.60" y="81.50" font-size="7.0" text-anchor="end" fill="#262626" textLength="18.5" lengthAdjust="spacingAndGlyphs" >control</text>
<text x="365.80" y="33.40" font-size="7.0" text-anchor="middle" fill="#262626" textLength="39" lengthAdjust="spacingAndGlyphs" >healthy control</text>
<text x="411.70" y="25.30" font-size="6.0" text-anchor="start" fill="#262626" textLength="31" lengthAdjust="spacingAndGlyphs" >Pie chart arc</text>
<rect x="412.20" y="28.80" width="2.50" height="2.40" fill="#c47a2a" stroke="none" stroke-width="0.6" />
<text x="416.40" y="32.20" font-size="6.0" text-anchor="start" fill="#262626" textLength="12.5" lengthAdjust="spacingAndGlyphs" >IFN-γ</text>
<rect x="412.20" y="35.15" width="2.50" height="2.40" fill="#f6b53c" stroke="none" stroke-width="0.6" />
<text x="416.40" y="38.55" font-size="6.0" text-anchor="start" fill="#262626" textLength="10.5" lengthAdjust="spacingAndGlyphs" >TNF</text>
<rect x="412.20" y="41.50" width="2.50" height="2.40" fill="#d02a7e" stroke="none" stroke-width="0.6" />
<text x="416.40" y="44.90" font-size="6.0" text-anchor="start" fill="#262626" textLength="17.8" lengthAdjust="spacingAndGlyphs" >CD107a</text>
<rect x="412.20" y="47.85" width="2.50" height="2.40" fill="#2c1a4d" stroke="none" stroke-width="0.6" />
<text x="416.40" y="51.25" font-size="6.0" text-anchor="start" fill="#262626" textLength="8.6" lengthAdjust="spacingAndGlyphs" >IL-2</text>
<line x1="190.50" y1="106.80" x2="190.50" y2="172.00" stroke="#222" stroke-width="1.0" />
<line x1="190.00" y1="171.50" x2="479.30" y2="171.50" stroke="#222" stroke-width="1.1" />
<line x1="188.30" y1="171.50" x2="190.50" y2="171.50" stroke="#222" stroke-width="0.7" />
<text x="184.70" y="173.80" font-size="6.6" text-anchor="end" fill="#262626" >0</text>
<line x1="188.30" y1="152.50" x2="190.50" y2="152.50" stroke="#222" stroke-width="0.7" />
<text x="184.70" y="154.80" font-size="6.6" text-anchor="end" fill="#262626" >20</text>
<line x1="188.30" y1="133.50" x2="190.50" y2="133.50" stroke="#222" stroke-width="0.7" />
<text x="184.70" y="135.80" font-size="6.6" text-anchor="end" fill="#262626" >40</text>
<line x1="188.30" y1="114.50" x2="190.50" y2="114.50" stroke="#222" stroke-width="0.7" />
<text x="184.70" y="116.80" font-size="6.6" text-anchor="end" fill="#262626" >60</text>
<text x="159.40" y="138.60" font-size="7.4" text-anchor="middle" fill="#262626" stroke="#262626" stroke-width="0.24" textLength="48.4" lengthAdjust="spacingAndGlyphs" transform="rotate(-90 159.40 138.60)" >% of CMV-specific</text>
<text x="169.60" y="139.40" font-size="7.4" text-anchor="middle" fill="#262626" stroke="#262626" stroke-width="0.24" textLength="45.3" lengthAdjust="spacingAndGlyphs" transform="rotate(-90 169.60 139.40)" >CD8<tspan font-size="4.2" baseline-shift="2.4">+</tspan> T cells at T7</text>
<rect x="207.35" y="168.70" width="4.50" height="2.80" fill="#fff" stroke="#5f8a68" stroke-width="0.6" />
<rect x="217.20" y="146.20" width="4.50" height="25.30" fill="#fff" stroke="#806068" stroke-width="0.6" />
<rect x="222.40" y="144.00" width="4.50" height="27.50" fill="#fff" stroke="#5a6a88" stroke-width="0.6" />
<rect x="227.50" y="134.80" width="4.50" height="36.70" fill="#fff" stroke="#5f8a68" stroke-width="0.6" />
<rect x="247.65" y="169.50" width="4.50" height="2.00" fill="#fff" stroke="#5f8a68" stroke-width="0.6" />
<rect x="297.80" y="144.80" width="4.50" height="26.70" fill="#fff" stroke="#806068" stroke-width="0.6" />
<rect x="303.00" y="144.80" width="4.50" height="26.70" fill="#fff" stroke="#5a6a88" stroke-width="0.6" />
<rect x="308.10" y="150.50" width="4.50" height="21.00" fill="#fff" stroke="#5f8a68" stroke-width="0.6" />
<rect x="317.95" y="163.20" width="4.50" height="8.30" fill="#fff" stroke="#806068" stroke-width="0.6" />
<rect x="323.15" y="164.00" width="4.50" height="7.50" fill="#fff" stroke="#5a6a88" stroke-width="0.6" />
<rect x="328.25" y="163.20" width="4.50" height="8.30" fill="#fff" stroke="#5f8a68" stroke-width="0.6" />
<rect x="338.10" y="169.30" width="4.50" height="2.20" fill="#fff" stroke="#806068" stroke-width="0.6" />
<rect x="343.30" y="169.50" width="4.50" height="2.00" fill="#fff" stroke="#5a6a88" stroke-width="0.6" />
<rect x="348.40" y="168.60" width="4.50" height="2.90" fill="#fff" stroke="#5f8a68" stroke-width="0.6" />
<rect x="358.25" y="168.00" width="4.50" height="3.50" fill="#fff" stroke="#806068" stroke-width="0.6" />
<rect x="363.45" y="168.30" width="4.50" height="3.20" fill="#fff" stroke="#5a6a88" stroke-width="0.6" />
<rect x="368.55" y="165.60" width="4.50" height="5.90" fill="#fff" stroke="#5f8a68" stroke-width="0.6" />
<rect x="388.70" y="169.50" width="4.50" height="2.00" fill="#fff" stroke="#5f8a68" stroke-width="0.6" />
<rect x="418.70" y="157.00" width="4.50" height="14.50" fill="#fff" stroke="#806068" stroke-width="0.6" />
<rect x="423.90" y="164.80" width="4.50" height="6.70" fill="#fff" stroke="#5a6a88" stroke-width="0.6" />
<rect x="429.00" y="164.00" width="4.50" height="7.50" fill="#fff" stroke="#5f8a68" stroke-width="0.6" />
<rect x="438.85" y="168.70" width="4.50" height="2.80" fill="#fff" stroke="#806068" stroke-width="0.6" />
<rect x="444.05" y="170.20" width="4.50" height="1.30" fill="#fff" stroke="#5a6a88" stroke-width="0.6" />
<rect x="449.15" y="169.50" width="4.50" height="2.00" fill="#fff" stroke="#5f8a68" stroke-width="0.6" />
<rect x="469.30" y="169.20" width="4.50" height="2.30" fill="#fff" stroke="#5f8a68" stroke-width="0.6" />
<circle cx="198.81" cy="170.62" r="0.85" fill="#d42a3c" stroke="none" stroke-width="0.5"/>
<circle cx="198.32" cy="170.81" r="0.85" fill="#d42a3c" stroke="none" stroke-width="0.5"/>
<circle cx="199.72" cy="170.91" r="0.85" fill="#d42a3c" stroke="none" stroke-width="0.5"/>
<circle cx="198.10" cy="171.10" r="0.85" fill="#d42a3c" stroke="none" stroke-width="0.5"/>
<circle cx="204.60" cy="170.81" r="0.85" fill="#1e3c8c" stroke="none" stroke-width="0.5"/>
<circle cx="204.12" cy="171.10" r="0.85" fill="#1e3c8c" stroke="none" stroke-width="0.5"/>
<circle cx="208.36" cy="163.50" r="0.85" fill="#2db34a" stroke="none" stroke-width="0.5"/>
<circle cx="209.62" cy="168.25" r="0.85" fill="#2db34a" stroke="none" stroke-width="0.5"/>
<circle cx="208.30" cy="169.20" r="0.85" fill="#2db34a" stroke="none" stroke-width="0.5"/>
<circle cx="209.41" cy="170.15" r="0.85" fill="#2db34a" stroke="none" stroke-width="0.5"/>
<circle cx="208.40" cy="170.62" r="0.85" fill="#2db34a" stroke="none" stroke-width="0.5"/>
<circle cx="218.30" cy="116.95" r="0.85" fill="#d42a3c" stroke="none" stroke-width="0.5"/>
<circle cx="219.24" cy="122.65" r="0.85" fill="#d42a3c" stroke="none" stroke-width="0.5"/>
<circle cx="220.37" cy="127.40" r="0.85" fill="#d42a3c" stroke="none" stroke-width="0.5"/>
<circle cx="218.40" cy="132.15" r="0.85" fill="#d42a3c" stroke="none" stroke-width="0.5"/>
<circle cx="218.68" cy="138.80" r="0.85" fill="#d42a3c" stroke="none" stroke-width="0.5"/>
<circle cx="219.81" cy="145.45" r="0.85" fill="#d42a3c" stroke="none" stroke-width="0.5"/>
<circle cx="220.70" cy="151.15" r="0.85" fill="#d42a3c" stroke="none" stroke-width="0.5"/>
<circle cx="219.67" cy="155.90" r="0.85" fill="#d42a3c" stroke="none" stroke-width="0.5"/>
<circle cx="219.16" cy="160.65" r="0.85" fill="#d42a3c" stroke="none" stroke-width="0.5"/>
<circle cx="220.78" cy="164.45" r="0.85" fill="#d42a3c" stroke="none" stroke-width="0.5"/>
<circle cx="218.18" cy="167.30" r="0.85" fill="#d42a3c" stroke="none" stroke-width="0.5"/>
<circle cx="220.45" cy="169.20" r="0.85" fill="#d42a3c" stroke="none" stroke-width="0.5"/>
<circle cx="224.06" cy="121.70" r="0.85" fill="#1e3c8c" stroke="none" stroke-width="0.5"/>
<circle cx="223.65" cy="122.65" r="0.85" fill="#1e3c8c" stroke="none" stroke-width="0.5"/>
<circle cx="223.58" cy="138.80" r="0.85" fill="#1e3c8c" stroke="none" stroke-width="0.5"/>
<circle cx="224.11" cy="140.70" r="0.85" fill="#1e3c8c" stroke="none" stroke-width="0.5"/>
<circle cx="225.54" cy="148.30" r="0.85" fill="#1e3c8c" stroke="none" stroke-width="0.5"/>
<circle cx="223.76" cy="152.10" r="0.85" fill="#1e3c8c" stroke="none" stroke-width="0.5"/>
<circle cx="224.88" cy="155.90" r="0.85" fill="#1e3c8c" stroke="none" stroke-width="0.5"/>
<circle cx="225.04" cy="161.60" r="0.85" fill="#1e3c8c" stroke="none" stroke-width="0.5"/>
<circle cx="224.29" cy="166.35" r="0.85" fill="#1e3c8c" stroke="none" stroke-width="0.5"/>
<circle cx="229.88" cy="108.40" r="0.85" fill="#2db34a" stroke="none" stroke-width="0.5"/>
<circle cx="228.53" cy="110.30" r="0.85" fill="#2db34a" stroke="none" stroke-width="0.5"/>
<circle cx="228.52" cy="114.10" r="0.85" fill="#2db34a" stroke="none" stroke-width="0.5"/>
<circle cx="228.93" cy="120.75" r="0.85" fill="#2db34a" stroke="none" stroke-width="0.5"/>
<circle cx="230.26" cy="127.40" r="0.85" fill="#2db34a" stroke="none" stroke-width="0.5"/>
<circle cx="229.55" cy="129.30" r="0.85" fill="#2db34a" stroke="none" stroke-width="0.5"/>
<circle cx="229.23" cy="134.05" r="0.85" fill="#2db34a" stroke="none" stroke-width="0.5"/>
<circle cx="229.99" cy="136.90" r="0.85" fill="#2db34a" stroke="none" stroke-width="0.5"/>
<circle cx="229.62" cy="140.70" r="0.85" fill="#2db34a" stroke="none" stroke-width="0.5"/>
<circle cx="229.19" cy="144.50" r="0.85" fill="#2db34a" stroke="none" stroke-width="0.5"/>
<circle cx="230.57" cy="148.30" r="0.85" fill="#2db34a" stroke="none" stroke-width="0.5"/>
<circle cx="230.31" cy="153.05" r="0.85" fill="#2db34a" stroke="none" stroke-width="0.5"/>
<circle cx="229.03" cy="157.80" r="0.85" fill="#2db34a" stroke="none" stroke-width="0.5"/>
<circle cx="229.96" cy="161.60" r="0.85" fill="#2db34a" stroke="none" stroke-width="0.5"/>
<circle cx="229.82" cy="166.35" r="0.85" fill="#2db34a" stroke="none" stroke-width="0.5"/>
<circle cx="240.65" cy="170.62" r="0.85" fill="#d42a3c" stroke="none" stroke-width="0.5"/>
<circle cx="240.24" cy="171.10" r="0.85" fill="#d42a3c" stroke="none" stroke-width="0.5"/>
<circle cx="244.21" cy="170.15" r="0.85" fill="#1e3c8c" stroke="none" stroke-width="0.5"/>
<circle cx="246.14" cy="171.10" r="0.85" fill="#1e3c8c" stroke="none" stroke-width="0.5"/>
<circle cx="248.83" cy="158.75" r="0.85" fill="#2db34a" stroke="none" stroke-width="0.5"/>
<circle cx="249.67" cy="163.50" r="0.85" fill="#2db34a" stroke="none" stroke-width="0.5"/>
<circle cx="250.62" cy="167.30" r="0.85" fill="#2db34a" stroke="none" stroke-width="0.5"/>
<circle cx="248.93" cy="169.20" r="0.85" fill="#2db34a" stroke="none" stroke-width="0.5"/>
<circle cx="249.87" cy="170.15" r="0.85" fill="#2db34a" stroke="none" stroke-width="0.5"/>
<circle cx="258.46" cy="170.62" r="0.85" fill="#d42a3c" stroke="none" stroke-width="0.5"/>
<circle cx="260.22" cy="171.10" r="0.85" fill="#d42a3c" stroke="none" stroke-width="0.5"/>
<circle cx="265.69" cy="170.15" r="0.85" fill="#1e3c8c" stroke="none" stroke-width="0.5"/>
<circle cx="265.15" cy="170.81" r="0.85" fill="#1e3c8c" stroke="none" stroke-width="0.5"/>
<circle cx="271.10" cy="170.15" r="0.85" fill="#2db34a" stroke="none" stroke-width="0.5"/>
<circle cx="269.53" cy="170.62" r="0.85" fill="#2db34a" stroke="none" stroke-width="0.5"/>
<circle cx="280.45" cy="170.81" r="0.85" fill="#d42a3c" stroke="none" stroke-width="0.5"/>
<circle cx="280.16" cy="171.10" r="0.85" fill="#d42a3c" stroke="none" stroke-width="0.5"/>
<circle cx="285.32" cy="170.81" r="0.85" fill="#1e3c8c" stroke="none" stroke-width="0.5"/>
<circle cx="284.98" cy="171.10" r="0.85" fill="#1e3c8c" stroke="none" stroke-width="0.5"/>
<circle cx="291.15" cy="170.62" r="0.85" fill="#2db34a" stroke="none" stroke-width="0.5"/>
<circle cx="291.45" cy="170.91" r="0.85" fill="#2db34a" stroke="none" stroke-width="0.5"/>
<circle cx="299.98" cy="118.85" r="0.85" fill="#d42a3c" stroke="none" stroke-width="0.5"/>
<circle cx="300.51" cy="125.50" r="0.85" fill="#d42a3c" stroke="none" stroke-width="0.5"/>
<circle cx="298.82" cy="131.20" r="0.85" fill="#d42a3c" stroke="none" stroke-width="0.5"/>
<circle cx="300.61" cy="137.85" r="0.85" fill="#d42a3c" stroke="none" stroke-width="0.5"/>
<circle cx="300.46" cy="144.50" r="0.85" fill="#d42a3c" stroke="none" stroke-width="0.5"/>
<circle cx="301.43" cy="159.70" r="0.85" fill="#d42a3c" stroke="none" stroke-width="0.5"/>
<circle cx="300.95" cy="163.50" r="0.85" fill="#d42a3c" stroke="none" stroke-width="0.5"/>
<circle cx="299.45" cy="167.30" r="0.85" fill="#d42a3c" stroke="none" stroke-width="0.5"/>
<circle cx="304.93" cy="114.10" r="0.85" fill="#1e3c8c" stroke="none" stroke-width="0.5"/>
<circle cx="305.72" cy="128.35" r="0.85" fill="#1e3c8c" stroke="none" stroke-width="0.5"/>
<circle cx="303.91" cy="139.75" r="0.85" fill="#1e3c8c" stroke="none" stroke-width="0.5"/>
<circle cx="305.14" cy="144.50" r="0.85" fill="#1e3c8c" stroke="none" stroke-width="0.5"/>
<circle cx="304.32" cy="150.20" r="0.85" fill="#1e3c8c" stroke="none" stroke-width="0.5"/>
<circle cx="304.18" cy="156.85" r="0.85" fill="#1e3c8c" stroke="none" stroke-width="0.5"/>
<circle cx="304.02" cy="161.60" r="0.85" fill="#1e3c8c" stroke="none" stroke-width="0.5"/>
<circle cx="306.00" cy="166.35" r="0.85" fill="#1e3c8c" stroke="none" stroke-width="0.5"/>
<circle cx="309.31" cy="128.35" r="0.85" fill="#2db34a" stroke="none" stroke-width="0.5"/>
<circle cx="309.64" cy="142.60" r="0.85" fill="#2db34a" stroke="none" stroke-width="0.5"/>
<circle cx="310.04" cy="154.00" r="0.85" fill="#2db34a" stroke="none" stroke-width="0.5"/>
<circle cx="311.39" cy="157.80" r="0.85" fill="#2db34a" stroke="none" stroke-width="0.5"/>
<circle cx="309.18" cy="159.70" r="0.85" fill="#2db34a" stroke="none" stroke-width="0.5"/>
<circle cx="310.21" cy="162.55" r="0.85" fill="#2db34a" stroke="none" stroke-width="0.5"/>
<circle cx="310.49" cy="164.45" r="0.85" fill="#2db34a" stroke="none" stroke-width="0.5"/>
<circle cx="311.42" cy="167.30" r="0.85" fill="#2db34a" stroke="none" stroke-width="0.5"/>
<circle cx="311.24" cy="169.20" r="0.85" fill="#2db34a" stroke="none" stroke-width="0.5"/>
<circle cx="321.22" cy="152.10" r="0.85" fill="#d42a3c" stroke="none" stroke-width="0.5"/>
<circle cx="319.58" cy="158.75" r="0.85" fill="#d42a3c" stroke="none" stroke-width="0.5"/>
<circle cx="319.96" cy="163.50" r="0.85" fill="#d42a3c" stroke="none" stroke-width="0.5"/>
<circle cx="319.80" cy="167.30" r="0.85" fill="#d42a3c" stroke="none" stroke-width="0.5"/>
<circle cx="321.28" cy="169.20" r="0.85" fill="#d42a3c" stroke="none" stroke-width="0.5"/>
<circle cx="321.48" cy="170.15" r="0.85" fill="#d42a3c" stroke="none" stroke-width="0.5"/>
<circle cx="324.42" cy="137.85" r="0.85" fill="#1e3c8c" stroke="none" stroke-width="0.5"/>
<circle cx="324.49" cy="150.20" r="0.85" fill="#1e3c8c" stroke="none" stroke-width="0.5"/>
<circle cx="324.65" cy="156.85" r="0.85" fill="#1e3c8c" stroke="none" stroke-width="0.5"/>
<circle cx="324.65" cy="165.40" r="0.85" fill="#1e3c8c" stroke="none" stroke-width="0.5"/>
<circle cx="325.36" cy="168.25" r="0.85" fill="#1e3c8c" stroke="none" stroke-width="0.5"/>
<circle cx="325.65" cy="170.15" r="0.85" fill="#1e3c8c" stroke="none" stroke-width="0.5"/>
<circle cx="329.84" cy="135.00" r="0.85" fill="#2db34a" stroke="none" stroke-width="0.5"/>
<circle cx="329.11" cy="147.35" r="0.85" fill="#2db34a" stroke="none" stroke-width="0.5"/>
<circle cx="330.27" cy="155.90" r="0.85" fill="#2db34a" stroke="none" stroke-width="0.5"/>
<circle cx="330.13" cy="161.60" r="0.85" fill="#2db34a" stroke="none" stroke-width="0.5"/>
<circle cx="330.69" cy="165.40" r="0.85" fill="#2db34a" stroke="none" stroke-width="0.5"/>
<circle cx="331.77" cy="167.30" r="0.85" fill="#2db34a" stroke="none" stroke-width="0.5"/>
<circle cx="331.03" cy="169.20" r="0.85" fill="#2db34a" stroke="none" stroke-width="0.5"/>
<circle cx="330.54" cy="170.15" r="0.85" fill="#2db34a" stroke="none" stroke-width="0.5"/>
<circle cx="340.68" cy="169.20" r="0.85" fill="#d42a3c" stroke="none" stroke-width="0.5"/>
<circle cx="340.84" cy="170.15" r="0.85" fill="#d42a3c" stroke="none" stroke-width="0.5"/>
<circle cx="339.10" cy="171.10" r="0.85" fill="#d42a3c" stroke="none" stroke-width="0.5"/>
<circle cx="346.67" cy="168.25" r="0.85" fill="#1e3c8c" stroke="none" stroke-width="0.5"/>
<circle cx="346.33" cy="170.15" r="0.85" fill="#1e3c8c" stroke="none" stroke-width="0.5"/>
<circle cx="346.60" cy="171.10" r="0.85" fill="#1e3c8c" stroke="none" stroke-width="0.5"/>
<circle cx="351.48" cy="167.30" r="0.85" fill="#2db34a" stroke="none" stroke-width="0.5"/>
<circle cx="350.35" cy="169.20" r="0.85" fill="#2db34a" stroke="none" stroke-width="0.5"/>
<circle cx="350.37" cy="170.15" r="0.85" fill="#2db34a" stroke="none" stroke-width="0.5"/>
<circle cx="359.39" cy="160.65" r="0.85" fill="#d42a3c" stroke="none" stroke-width="0.5"/>
<circle cx="360.88" cy="167.30" r="0.85" fill="#d42a3c" stroke="none" stroke-width="0.5"/>
<circle cx="359.27" cy="169.20" r="0.85" fill="#d42a3c" stroke="none" stroke-width="0.5"/>
<circle cx="359.29" cy="170.15" r="0.85" fill="#d42a3c" stroke="none" stroke-width="0.5"/>
<circle cx="364.88" cy="129.30" r="0.85" fill="#1e3c8c" stroke="none" stroke-width="0.5"/>
<circle cx="364.75" cy="147.35" r="0.85" fill="#1e3c8c" stroke="none" stroke-width="0.5"/>
<circle cx="365.25" cy="166.35" r="0.85" fill="#1e3c8c" stroke="none" stroke-width="0.5"/>
<circle cx="364.45" cy="169.20" r="0.85" fill="#1e3c8c" stroke="none" stroke-width="0.5"/>
<circle cx="369.40" cy="151.15" r="0.85" fill="#2db34a" stroke="none" stroke-width="0.5"/>
<circle cx="369.82" cy="163.50" r="0.85" fill="#2db34a" stroke="none" stroke-width="0.5"/>
<circle cx="369.68" cy="165.40" r="0.85" fill="#2db34a" stroke="none" stroke-width="0.5"/>
<circle cx="370.42" cy="168.25" r="0.85" fill="#2db34a" stroke="none" stroke-width="0.5"/>
<circle cx="369.47" cy="169.20" r="0.85" fill="#2db34a" stroke="none" stroke-width="0.5"/>
<circle cx="381.70" cy="170.15" r="0.85" fill="#d42a3c" stroke="none" stroke-width="0.5"/>
<circle cx="380.97" cy="170.62" r="0.85" fill="#d42a3c" stroke="none" stroke-width="0.5"/>
<circle cx="379.67" cy="171.10" r="0.85" fill="#d42a3c" stroke="none" stroke-width="0.5"/>
<circle cx="385.16" cy="170.15" r="0.85" fill="#1e3c8c" stroke="none" stroke-width="0.5"/>
<circle cx="385.42" cy="170.81" r="0.85" fill="#1e3c8c" stroke="none" stroke-width="0.5"/>
<circle cx="390.57" cy="161.60" r="0.85" fill="#2db34a" stroke="none" stroke-width="0.5"/>
<circle cx="389.89" cy="168.25" r="0.85" fill="#2db34a" stroke="none" stroke-width="0.5"/>
<circle cx="391.93" cy="170.15" r="0.85" fill="#2db34a" stroke="none" stroke-width="0.5"/>
<circle cx="402.18" cy="170.81" r="0.85" fill="#d42a3c" stroke="none" stroke-width="0.5"/>
<circle cx="400.70" cy="171.10" r="0.85" fill="#d42a3c" stroke="none" stroke-width="0.5"/>
<circle cx="405.95" cy="170.81" r="0.85" fill="#1e3c8c" stroke="none" stroke-width="0.5"/>
<circle cx="404.84" cy="171.10" r="0.85" fill="#1e3c8c" stroke="none" stroke-width="0.5"/>
<circle cx="409.99" cy="170.15" r="0.85" fill="#2db34a" stroke="none" stroke-width="0.5"/>
<circle cx="410.66" cy="170.81" r="0.85" fill="#2db34a" stroke="none" stroke-width="0.5"/>
<circle cx="420.29" cy="125.50" r="0.85" fill="#d42a3c" stroke="none" stroke-width="0.5"/>
<circle cx="421.87" cy="133.10" r="0.85" fill="#d42a3c" stroke="none" stroke-width="0.5"/>
<circle cx="420.00" cy="136.90" r="0.85" fill="#d42a3c" stroke="none" stroke-width="0.5"/>
<circle cx="419.61" cy="156.85" r="0.85" fill="#d42a3c" stroke="none" stroke-width="0.5"/>
<circle cx="422.21" cy="162.55" r="0.85" fill="#d42a3c" stroke="none" stroke-width="0.5"/>
<circle cx="426.23" cy="147.35" r="0.85" fill="#1e3c8c" stroke="none" stroke-width="0.5"/>
<circle cx="425.16" cy="158.75" r="0.85" fill="#1e3c8c" stroke="none" stroke-width="0.5"/>
<circle cx="426.27" cy="162.55" r="0.85" fill="#1e3c8c" stroke="none" stroke-width="0.5"/>
<circle cx="424.83" cy="167.30" r="0.85" fill="#1e3c8c" stroke="none" stroke-width="0.5"/>
<circle cx="426.23" cy="169.20" r="0.85" fill="#1e3c8c" stroke="none" stroke-width="0.5"/>
<circle cx="432.59" cy="150.20" r="0.85" fill="#2db34a" stroke="none" stroke-width="0.5"/>
<circle cx="432.27" cy="156.85" r="0.85" fill="#2db34a" stroke="none" stroke-width="0.5"/>
<circle cx="431.80" cy="159.70" r="0.85" fill="#2db34a" stroke="none" stroke-width="0.5"/>
<circle cx="430.58" cy="162.55" r="0.85" fill="#2db34a" stroke="none" stroke-width="0.5"/>
<circle cx="430.88" cy="166.35" r="0.85" fill="#2db34a" stroke="none" stroke-width="0.5"/>
<circle cx="430.32" cy="169.20" r="0.85" fill="#2db34a" stroke="none" stroke-width="0.5"/>
<circle cx="441.86" cy="146.40" r="0.85" fill="#d42a3c" stroke="none" stroke-width="0.5"/>
<circle cx="441.19" cy="155.90" r="0.85" fill="#d42a3c" stroke="none" stroke-width="0.5"/>
<circle cx="441.88" cy="160.65" r="0.85" fill="#d42a3c" stroke="none" stroke-width="0.5"/>
<circle cx="440.62" cy="165.40" r="0.85" fill="#d42a3c" stroke="none" stroke-width="0.5"/>
<circle cx="440.32" cy="169.20" r="0.85" fill="#d42a3c" stroke="none" stroke-width="0.5"/>
<circle cx="447.17" cy="141.65" r="0.85" fill="#1e3c8c" stroke="none" stroke-width="0.5"/>
<circle cx="447.66" cy="152.10" r="0.85" fill="#1e3c8c" stroke="none" stroke-width="0.5"/>
<circle cx="447.29" cy="166.35" r="0.85" fill="#1e3c8c" stroke="none" stroke-width="0.5"/>
<circle cx="447.16" cy="170.15" r="0.85" fill="#1e3c8c" stroke="none" stroke-width="0.5"/>
<circle cx="452.29" cy="131.20" r="0.85" fill="#2db34a" stroke="none" stroke-width="0.5"/>
<circle cx="452.07" cy="138.80" r="0.85" fill="#2db34a" stroke="none" stroke-width="0.5"/>
<circle cx="450.63" cy="150.20" r="0.85" fill="#2db34a" stroke="none" stroke-width="0.5"/>
<circle cx="451.45" cy="157.80" r="0.85" fill="#2db34a" stroke="none" stroke-width="0.5"/>
<circle cx="451.00" cy="163.50" r="0.85" fill="#2db34a" stroke="none" stroke-width="0.5"/>
<circle cx="450.08" cy="168.25" r="0.85" fill="#2db34a" stroke="none" stroke-width="0.5"/>
<circle cx="459.93" cy="170.15" r="0.85" fill="#d42a3c" stroke="none" stroke-width="0.5"/>
<circle cx="460.63" cy="171.10" r="0.85" fill="#d42a3c" stroke="none" stroke-width="0.5"/>
<circle cx="465.78" cy="170.62" r="0.85" fill="#1e3c8c" stroke="none" stroke-width="0.5"/>
<circle cx="466.99" cy="171.10" r="0.85" fill="#1e3c8c" stroke="none" stroke-width="0.5"/>
<circle cx="472.83" cy="166.35" r="0.85" fill="#2db34a" stroke="none" stroke-width="0.5"/>
<circle cx="471.40" cy="169.20" r="0.85" fill="#2db34a" stroke="none" stroke-width="0.5"/>
<circle cx="472.77" cy="170.15" r="0.85" fill="#2db34a" stroke="none" stroke-width="0.5"/>
<line x1="196.90" y1="171.50" x2="201.70" y2="171.50" stroke="#d42a3c" stroke-width="1.2" />
<line x1="202.10" y1="171.50" x2="206.90" y2="171.50" stroke="#1e3c8c" stroke-width="1.2" />
<line x1="207.20" y1="171.50" x2="212.00" y2="171.50" stroke="#2db34a" stroke-width="1.2" />
<line x1="217.05" y1="171.50" x2="221.85" y2="171.50" stroke="#d42a3c" stroke-width="1.2" />
<line x1="222.25" y1="171.50" x2="227.05" y2="171.50" stroke="#1e3c8c" stroke-width="1.2" />
<line x1="227.35" y1="171.50" x2="232.15" y2="171.50" stroke="#2db34a" stroke-width="1.2" />
<line x1="237.20" y1="171.50" x2="242.00" y2="171.50" stroke="#d42a3c" stroke-width="1.2" />
<line x1="242.40" y1="171.50" x2="247.20" y2="171.50" stroke="#1e3c8c" stroke-width="1.2" />
<line x1="247.50" y1="171.50" x2="252.30" y2="171.50" stroke="#2db34a" stroke-width="1.2" />
<line x1="257.35" y1="171.50" x2="262.15" y2="171.50" stroke="#d42a3c" stroke-width="1.2" />
<line x1="262.55" y1="171.50" x2="267.35" y2="171.50" stroke="#1e3c8c" stroke-width="1.2" />
<line x1="267.65" y1="171.50" x2="272.45" y2="171.50" stroke="#2db34a" stroke-width="1.2" />
<line x1="277.50" y1="171.50" x2="282.30" y2="171.50" stroke="#d42a3c" stroke-width="1.2" />
<line x1="282.70" y1="171.50" x2="287.50" y2="171.50" stroke="#1e3c8c" stroke-width="1.2" />
<line x1="287.80" y1="171.50" x2="292.60" y2="171.50" stroke="#2db34a" stroke-width="1.2" />
<line x1="297.65" y1="171.50" x2="302.45" y2="171.50" stroke="#d42a3c" stroke-width="1.2" />
<line x1="302.85" y1="171.50" x2="307.65" y2="171.50" stroke="#1e3c8c" stroke-width="1.2" />
<line x1="307.95" y1="171.50" x2="312.75" y2="171.50" stroke="#2db34a" stroke-width="1.2" />
<line x1="317.80" y1="171.50" x2="322.60" y2="171.50" stroke="#d42a3c" stroke-width="1.2" />
<line x1="323.00" y1="171.50" x2="327.80" y2="171.50" stroke="#1e3c8c" stroke-width="1.2" />
<line x1="328.10" y1="171.50" x2="332.90" y2="171.50" stroke="#2db34a" stroke-width="1.2" />
<line x1="337.95" y1="171.50" x2="342.75" y2="171.50" stroke="#d42a3c" stroke-width="1.2" />
<line x1="343.15" y1="171.50" x2="347.95" y2="171.50" stroke="#1e3c8c" stroke-width="1.2" />
<line x1="348.25" y1="171.50" x2="353.05" y2="171.50" stroke="#2db34a" stroke-width="1.2" />
<line x1="358.10" y1="171.50" x2="362.90" y2="171.50" stroke="#d42a3c" stroke-width="1.2" />
<line x1="363.30" y1="171.50" x2="368.10" y2="171.50" stroke="#1e3c8c" stroke-width="1.2" />
<line x1="368.40" y1="171.50" x2="373.20" y2="171.50" stroke="#2db34a" stroke-width="1.2" />
<line x1="378.25" y1="171.50" x2="383.05" y2="171.50" stroke="#d42a3c" stroke-width="1.2" />
<line x1="383.45" y1="171.50" x2="388.25" y2="171.50" stroke="#1e3c8c" stroke-width="1.2" />
<line x1="388.55" y1="171.50" x2="393.35" y2="171.50" stroke="#2db34a" stroke-width="1.2" />
<line x1="398.40" y1="171.50" x2="403.20" y2="171.50" stroke="#d42a3c" stroke-width="1.2" />
<line x1="403.60" y1="171.50" x2="408.40" y2="171.50" stroke="#1e3c8c" stroke-width="1.2" />
<line x1="408.70" y1="171.50" x2="413.50" y2="171.50" stroke="#2db34a" stroke-width="1.2" />
<line x1="418.55" y1="171.50" x2="423.35" y2="171.50" stroke="#d42a3c" stroke-width="1.2" />
<line x1="423.75" y1="171.50" x2="428.55" y2="171.50" stroke="#1e3c8c" stroke-width="1.2" />
<line x1="428.85" y1="171.50" x2="433.65" y2="171.50" stroke="#2db34a" stroke-width="1.2" />
<line x1="438.70" y1="171.50" x2="443.50" y2="171.50" stroke="#d42a3c" stroke-width="1.2" />
<line x1="443.90" y1="171.50" x2="448.70" y2="171.50" stroke="#1e3c8c" stroke-width="1.2" />
<line x1="449.00" y1="171.50" x2="453.80" y2="171.50" stroke="#2db34a" stroke-width="1.2" />
<line x1="458.85" y1="171.50" x2="463.65" y2="171.50" stroke="#d42a3c" stroke-width="1.2" />
<line x1="464.05" y1="171.50" x2="468.85" y2="171.50" stroke="#1e3c8c" stroke-width="1.2" />
<line x1="469.15" y1="171.50" x2="473.95" y2="171.50" stroke="#2db34a" stroke-width="1.2" />
<text x="191.70" y="155.70" font-size="6.3" text-anchor="start" fill="#262626" textLength="24.2" lengthAdjust="spacingAndGlyphs" ><tspan font-style="italic">P</tspan> = .006</text>
<line x1="205.20" y1="157.90" x2="211.00" y2="157.90" stroke="#444" stroke-width="0.9" />
<text x="233.20" y="147.50" font-size="6.3" text-anchor="start" fill="#262626" textLength="24.2" lengthAdjust="spacingAndGlyphs" ><tspan font-style="italic">P</tspan> = .007</text>
<line x1="240.00" y1="149.80" x2="245.70" y2="149.80" stroke="#444" stroke-width="0.9" />
<text x="337.00" y="148.50" font-size="6.3" text-anchor="start" fill="#262626" textLength="25" lengthAdjust="spacingAndGlyphs" ><tspan font-style="italic">P</tspan> = .009</text>
<line x1="347.00" y1="151.00" x2="352.00" y2="151.00" stroke="#444" stroke-width="0.9" />
<text x="337.00" y="159.50" font-size="6.3" text-anchor="start" fill="#262626" textLength="20.4" lengthAdjust="spacingAndGlyphs" ><tspan font-style="italic">P</tspan> = .02</text>
<line x1="342.00" y1="162.50" x2="352.00" y2="162.50" stroke="#444" stroke-width="0.9" />
<circle cx="472.00" cy="126.70" r="0.85" fill="#a8203a" stroke="none" stroke-width="0.5"/>
<text x="474.90" y="129.00" font-size="6.8" text-anchor="start" fill="#262626" textLength="8.4" lengthAdjust="spacingAndGlyphs" >DLI</text>
<circle cx="472.00" cy="134.00" r="0.85" fill="#1a2a5a" stroke="none" stroke-width="0.5"/>
<text x="474.90" y="136.30" font-size="6.8" text-anchor="start" fill="#262626" textLength="17.5" lengthAdjust="spacingAndGlyphs" >control</text>
<circle cx="472.00" cy="141.30" r="0.85" fill="#4a8a5a" stroke="none" stroke-width="0.5"/>
<text x="474.90" y="143.60" font-size="6.8" text-anchor="start" fill="#262626" textLength="36.5" lengthAdjust="spacingAndGlyphs" >healthy control</text>
<text x="178.00" y="181.60" font-size="6.8" text-anchor="middle" fill="#262626" textLength="15.6" lengthAdjust="spacingAndGlyphs" >IFN-γ</text>
<text x="178.00" y="189.50" font-size="6.8" text-anchor="middle" fill="#262626" textLength="11.4" lengthAdjust="spacingAndGlyphs" >TNF</text>
<text x="178.00" y="197.50" font-size="6.8" text-anchor="middle" fill="#262626" textLength="23.5" lengthAdjust="spacingAndGlyphs" >CD107a</text>
<text x="178.00" y="205.60" font-size="6.8" text-anchor="middle" fill="#262626" textLength="10.9" lengthAdjust="spacingAndGlyphs" >IL-2</text>
<text x="178.00" y="213.90" font-size="6.8" text-anchor="middle" fill="#262626" textLength="24.1" lengthAdjust="spacingAndGlyphs" >Pie Slice</text>
<text x="178.00" y="223.10" font-size="6.8" text-anchor="middle" fill="#262626" textLength="30.2" lengthAdjust="spacingAndGlyphs" ># functions</text>
<line x1="202.80" y1="180.10" x2="206.20" y2="180.10" stroke="#2a2a2a" stroke-width="0.8" />
<line x1="204.50" y1="178.40" x2="204.50" y2="181.80" stroke="#2a2a2a" stroke-width="0.8" />
<line x1="202.80" y1="188.00" x2="206.20" y2="188.00" stroke="#2a2a2a" stroke-width="0.8" />
<line x1="204.50" y1="186.30" x2="204.50" y2="189.70" stroke="#2a2a2a" stroke-width="0.8" />
<line x1="202.80" y1="196.10" x2="206.20" y2="196.10" stroke="#2a2a2a" stroke-width="0.8" />
<line x1="204.50" y1="194.40" x2="204.50" y2="197.80" stroke="#2a2a2a" stroke-width="0.8" />
<line x1="202.80" y1="204.00" x2="206.20" y2="204.00" stroke="#2a2a2a" stroke-width="0.8" />
<line x1="204.50" y1="202.30" x2="204.50" y2="205.70" stroke="#2a2a2a" stroke-width="0.8" />
<rect x="202.80" y="211.00" width="3.40" height="3.00" fill="#151515" stroke="none" stroke-width="0.6" />
<line x1="222.95" y1="180.10" x2="226.35" y2="180.10" stroke="#2a2a2a" stroke-width="0.8" />
<line x1="224.65" y1="178.40" x2="224.65" y2="181.80" stroke="#2a2a2a" stroke-width="0.8" />
<line x1="222.95" y1="188.00" x2="226.35" y2="188.00" stroke="#2a2a2a" stroke-width="0.8" />
<line x1="224.65" y1="186.30" x2="224.65" y2="189.70" stroke="#2a2a2a" stroke-width="0.8" />
<line x1="222.95" y1="196.10" x2="226.35" y2="196.10" stroke="#2a2a2a" stroke-width="0.8" />
<line x1="224.65" y1="194.40" x2="224.65" y2="197.80" stroke="#2a2a2a" stroke-width="0.8" />
<line x1="223.05" y1="204.00" x2="226.25" y2="204.00" stroke="#666" stroke-width="0.75" />
<rect x="222.95" y="211.00" width="3.40" height="3.00" fill="#151515" stroke="none" stroke-width="0.6" />
<line x1="243.10" y1="180.10" x2="246.50" y2="180.10" stroke="#2a2a2a" stroke-width="0.8" />
<line x1="244.80" y1="178.40" x2="244.80" y2="181.80" stroke="#2a2a2a" stroke-width="0.8" />
<line x1="243.10" y1="188.00" x2="246.50" y2="188.00" stroke="#2a2a2a" stroke-width="0.8" />
<line x1="244.80" y1="186.30" x2="244.80" y2="189.70" stroke="#2a2a2a" stroke-width="0.8" />
<line x1="243.20" y1="196.10" x2="246.40" y2="196.10" stroke="#666" stroke-width="0.75" />
<line x1="243.10" y1="204.00" x2="246.50" y2="204.00" stroke="#2a2a2a" stroke-width="0.8" />
<line x1="244.80" y1="202.30" x2="244.80" y2="205.70" stroke="#2a2a2a" stroke-width="0.8" />
<rect x="243.10" y="211.00" width="3.40" height="3.00" fill="#151515" stroke="none" stroke-width="0.6" />
<line x1="263.25" y1="180.10" x2="266.65" y2="180.10" stroke="#2a2a2a" stroke-width="0.8" />
<line x1="264.95" y1="178.40" x2="264.95" y2="181.80" stroke="#2a2a2a" stroke-width="0.8" />
<line x1="263.35" y1="188.00" x2="266.55" y2="188.00" stroke="#666" stroke-width="0.75" />
<line x1="263.25" y1="196.10" x2="266.65" y2="196.10" stroke="#2a2a2a" stroke-width="0.8" />
<line x1="264.95" y1="194.40" x2="264.95" y2="197.80" stroke="#2a2a2a" stroke-width="0.8" />
<line x1="263.25" y1="204.00" x2="266.65" y2="204.00" stroke="#2a2a2a" stroke-width="0.8" />
<line x1="264.95" y1="202.30" x2="264.95" y2="205.70" stroke="#2a2a2a" stroke-width="0.8" />
<rect x="263.25" y="211.00" width="3.40" height="3.00" fill="#151515" stroke="none" stroke-width="0.6" />
<line x1="283.50" y1="180.10" x2="286.70" y2="180.10" stroke="#666" stroke-width="0.75" />
<line x1="283.40" y1="188.00" x2="286.80" y2="188.00" stroke="#2a2a2a" stroke-width="0.8" />
<line x1="285.10" y1="186.30" x2="285.10" y2="189.70" stroke="#2a2a2a" stroke-width="0.8" />
<line x1="283.40" y1="196.10" x2="286.80" y2="196.10" stroke="#2a2a2a" stroke-width="0.8" />
<line x1="285.10" y1="194.40" x2="285.10" y2="197.80" stroke="#2a2a2a" stroke-width="0.8" />
<line x1="283.40" y1="204.00" x2="286.80" y2="204.00" stroke="#2a2a2a" stroke-width="0.8" />
<line x1="285.10" y1="202.30" x2="285.10" y2="205.70" stroke="#2a2a2a" stroke-width="0.8" />
<rect x="283.40" y="211.00" width="3.40" height="3.00" fill="#151515" stroke="none" stroke-width="0.6" />
<line x1="303.55" y1="180.10" x2="306.95" y2="180.10" stroke="#2a2a2a" stroke-width="0.8" />
<line x1="305.25" y1="178.40" x2="305.25" y2="181.80" stroke="#2a2a2a" stroke-width="0.8" />
<line x1="303.55" y1="188.00" x2="306.95" y2="188.00" stroke="#2a2a2a" stroke-width="0.8" />
<line x1="305.25" y1="186.30" x2="305.25" y2="189.70" stroke="#2a2a2a" stroke-width="0.8" />
<line x1="303.65" y1="196.10" x2="306.85" y2="196.10" stroke="#666" stroke-width="0.75" />
<line x1="303.65" y1="204.00" x2="306.85" y2="204.00" stroke="#666" stroke-width="0.75" />
<rect x="303.70" y="211.25" width="3.10" height="2.50" fill="#5a949c" stroke="#1f3d45" stroke-width="0.8" />
<line x1="323.70" y1="180.10" x2="327.10" y2="180.10" stroke="#2a2a2a" stroke-width="0.8" />
<line x1="325.40" y1="178.40" x2="325.40" y2="181.80" stroke="#2a2a2a" stroke-width="0.8" />
<line x1="323.80" y1="188.00" x2="327.00" y2="188.00" stroke="#666" stroke-width="0.75" />
<line x1="323.70" y1="196.10" x2="327.10" y2="196.10" stroke="#2a2a2a" stroke-width="0.8" />
<line x1="325.40" y1="194.40" x2="325.40" y2="197.80" stroke="#2a2a2a" stroke-width="0.8" />
<line x1="323.80" y1="204.00" x2="327.00" y2="204.00" stroke="#666" stroke-width="0.75" />
<rect x="323.85" y="211.25" width="3.10" height="2.50" fill="#5a949c" stroke="#1f3d45" stroke-width="0.8" />
<line x1="343.85" y1="180.10" x2="347.25" y2="180.10" stroke="#2a2a2a" stroke-width="0.8" />
<line x1="345.55" y1="178.40" x2="345.55" y2="181.80" stroke="#2a2a2a" stroke-width="0.8" />
<line x1="343.95" y1="188.00" x2="347.15" y2="188.00" stroke="#666" stroke-width="0.75" />
<line x1="343.95" y1="196.10" x2="347.15" y2="196.10" stroke="#666" stroke-width="0.75" />
<line x1="343.85" y1="204.00" x2="347.25" y2="204.00" stroke="#2a2a2a" stroke-width="0.8" />
<line x1="345.55" y1="202.30" x2="345.55" y2="205.70" stroke="#2a2a2a" stroke-width="0.8" />
<rect x="344.00" y="211.25" width="3.10" height="2.50" fill="#5a949c" stroke="#1f3d45" stroke-width="0.8" />
<line x1="364.10" y1="180.10" x2="367.30" y2="180.10" stroke="#666" stroke-width="0.75" />
<line x1="364.00" y1="188.00" x2="367.40" y2="188.00" stroke="#2a2a2a" stroke-width="0.8" />
<line x1="365.70" y1="186.30" x2="365.70" y2="189.70" stroke="#2a2a2a" stroke-width="0.8" />
<line x1="364.00" y1="196.10" x2="367.40" y2="196.10" stroke="#2a2a2a" stroke-width="0.8" />
<line x1="365.70" y1="194.40" x2="365.70" y2="197.80" stroke="#2a2a2a" stroke-width="0.8" />
<line x1="364.10" y1="204.00" x2="367.30" y2="204.00" stroke="#666" stroke-width="0.75" />
<rect x="364.15" y="211.25" width="3.10" height="2.50" fill="#5a949c" stroke="#1f3d45" stroke-width="0.8" />
<line x1="384.25" y1="180.10" x2="387.45" y2="180.10" stroke="#666" stroke-width="0.75" />
<line x1="384.15" y1="188.00" x2="387.55" y2="188.00" stroke="#2a2a2a" stroke-width="0.8" />
<line x1="385.85" y1="186.30" x2="385.85" y2="189.70" stroke="#2a2a2a" stroke-width="0.8" />
<line x1="384.25" y1="196.10" x2="387.45" y2="196.10" stroke="#666" stroke-width="0.75" />
<line x1="384.15" y1="204.00" x2="387.55" y2="204.00" stroke="#2a2a2a" stroke-width="0.8" />
<line x1="385.85" y1="202.30" x2="385.85" y2="205.70" stroke="#2a2a2a" stroke-width="0.8" />
<rect x="384.30" y="211.25" width="3.10" height="2.50" fill="#5a949c" stroke="#1f3d45" stroke-width="0.8" />
<line x1="404.40" y1="180.10" x2="407.60" y2="180.10" stroke="#666" stroke-width="0.75" />
<line x1="404.40" y1="188.00" x2="407.60" y2="188.00" stroke="#666" stroke-width="0.75" />
<line x1="404.30" y1="196.10" x2="407.70" y2="196.10" stroke="#2a2a2a" stroke-width="0.8" />
<line x1="406.00" y1="194.40" x2="406.00" y2="197.80" stroke="#2a2a2a" stroke-width="0.8" />
<line x1="404.30" y1="204.00" x2="407.70" y2="204.00" stroke="#2a2a2a" stroke-width="0.8" />
<line x1="406.00" y1="202.30" x2="406.00" y2="205.70" stroke="#2a2a2a" stroke-width="0.8" />
<rect x="404.45" y="211.25" width="3.10" height="2.50" fill="#5a949c" stroke="#1f3d45" stroke-width="0.8" />
<line x1="424.45" y1="180.10" x2="427.85" y2="180.10" stroke="#2a2a2a" stroke-width="0.8" />
<line x1="426.15" y1="178.40" x2="426.15" y2="181.80" stroke="#2a2a2a" stroke-width="0.8" />
<line x1="424.55" y1="188.00" x2="427.75" y2="188.00" stroke="#666" stroke-width="0.75" />
<line x1="424.55" y1="196.10" x2="427.75" y2="196.10" stroke="#666" stroke-width="0.75" />
<line x1="424.55" y1="204.00" x2="427.75" y2="204.00" stroke="#666" stroke-width="0.75" />
<rect x="424.60" y="211.30" width="3.10" height="2.40" fill="#fff" stroke="#333" stroke-width="0.75" />
<line x1="444.70" y1="180.10" x2="447.90" y2="180.10" stroke="#666" stroke-width="0.75" />
<line x1="444.60" y1="188.00" x2="448.00" y2="188.00" stroke="#2a2a2a" stroke-width="0.8" />
<line x1="446.30" y1="186.30" x2="446.30" y2="189.70" stroke="#2a2a2a" stroke-width="0.8" />
<line x1="444.70" y1="196.10" x2="447.90" y2="196.10" stroke="#666" stroke-width="0.75" />
<line x1="444.70" y1="204.00" x2="447.90" y2="204.00" stroke="#666" stroke-width="0.75" />
<rect x="444.75" y="211.30" width="3.10" height="2.40" fill="#fff" stroke="#333" stroke-width="0.75" />
<line x1="464.85" y1="180.10" x2="468.05" y2="180.10" stroke="#666" stroke-width="0.75" />
<line x1="464.85" y1="188.00" x2="468.05" y2="188.00" stroke="#666" stroke-width="0.75" />
<line x1="464.85" y1="196.10" x2="468.05" y2="196.10" stroke="#666" stroke-width="0.75" />
<line x1="464.75" y1="204.00" x2="468.15" y2="204.00" stroke="#2a2a2a" stroke-width="0.8" />
<line x1="466.45" y1="202.30" x2="466.45" y2="205.70" stroke="#2a2a2a" stroke-width="0.8" />
<rect x="464.90" y="211.30" width="3.10" height="2.40" fill="#fff" stroke="#333" stroke-width="0.75" />
<text x="204.50" y="223.10" font-size="6.8" text-anchor="middle" fill="#262626" >4</text>
<line x1="221.80" y1="216.30" x2="286.50" y2="216.30" stroke="#444" stroke-width="1.0" />
<text x="254.00" y="223.10" font-size="6.8" text-anchor="middle" fill="#262626" >3</text>
<line x1="303.50" y1="216.30" x2="407.50" y2="216.30" stroke="#444" stroke-width="1.0" />
<text x="355.50" y="223.10" font-size="6.8" text-anchor="middle" fill="#262626" >2</text>
<line x1="424.80" y1="216.40" x2="469.20" y2="216.40" stroke="#444" stroke-width="1.0" />
<text x="446.20" y="223.10" font-size="6.8" text-anchor="middle" fill="#262626" >1</text>
<circle cx="69.20" cy="262.75" r="1.20" fill="#cab06d" stroke="none" stroke-width="0.5"/>
<circle cx="76.40" cy="262.75" r="4.20" fill="#f1b03a" stroke="#cf9732" stroke-width="0.35"/>
<circle cx="83.60" cy="262.75" r="2.20" fill="#d83220" stroke="#ba2b1c" stroke-width="0.35"/>
<circle cx="90.80" cy="262.75" r="2.20" fill="#d83220" stroke="#ba2b1c" stroke-width="0.35"/>
<circle cx="98.00" cy="262.75" r="2.20" fill="#d83220" stroke="#ba2b1c" stroke-width="0.35"/>
<circle cx="105.20" cy="262.75" r="2.00" fill="#dc3f25" stroke="#bd3620" stroke-width="0.35"/>
<circle cx="112.40" cy="262.75" r="1.80" fill="#ee8c34" stroke="#cd782d" stroke-width="0.35"/>
<circle cx="119.60" cy="262.75" r="1.20" fill="#f1ece6" stroke="#e2d8d2" stroke-width="0.3"/>
<circle cx="126.80" cy="262.75" r="1.20" fill="#f1ece6" stroke="#e2d8d2" stroke-width="0.3"/>
<circle cx="134.00" cy="262.75" r="3.00" fill="#d83220" stroke="#ba2b1c" stroke-width="0.35"/>
<circle cx="141.20" cy="262.75" r="3.00" fill="#d83220" stroke="#ba2b1c" stroke-width="0.35"/>
<circle cx="148.40" cy="262.75" r="1.20" fill="#f1ece6" stroke="#e2d8d2" stroke-width="0.3"/>
<circle cx="155.60" cy="262.75" r="1.20" fill="#f1ece6" stroke="#e2d8d2" stroke-width="0.3"/>
<circle cx="162.80" cy="262.75" r="1.20" fill="#f1ece6" stroke="#e2d8d2" stroke-width="0.3"/>
<circle cx="170.00" cy="262.75" r="1.80" fill="#f8eab4" stroke="#d5c99b" stroke-width="0.35"/>
<circle cx="177.20" cy="262.75" r="2.20" fill="#ec7f32" stroke="#cb6d2b" stroke-width="0.35"/>
<circle cx="184.40" cy="262.75" r="2.50" fill="#f1b03a" stroke="#cf9732" stroke-width="0.35"/>
<circle cx="191.60" cy="262.75" r="2.50" fill="#ec7f32" stroke="#cb6d2b" stroke-width="0.35"/>
<circle cx="198.80" cy="262.75" r="3.00" fill="#e97231" stroke="#c8622a" stroke-width="0.35"/>
<circle cx="206.00" cy="262.75" r="2.70" fill="#e97231" stroke="#c8622a" stroke-width="0.35"/>
<text x="63.60" y="265.10" font-size="6.6" text-anchor="end" fill="#262626" >C13</text>
<circle cx="69.20" cy="272.90" r="1.30" fill="#c68c53" stroke="none" stroke-width="0.5"/>
<circle cx="76.40" cy="272.90" r="1.00" fill="#ba5a48" stroke="none" stroke-width="0.5"/>
<circle cx="83.60" cy="272.90" r="2.20" fill="#e4582e" stroke="#c44c28" stroke-width="0.35"/>
<circle cx="90.80" cy="272.90" r="2.20" fill="#e04c2a" stroke="#c14124" stroke-width="0.35"/>
<circle cx="98.00" cy="272.90" r="2.20" fill="#e4582e" stroke="#c44c28" stroke-width="0.35"/>
<circle cx="105.20" cy="272.90" r="1.80" fill="#ee8c34" stroke="#cd782d" stroke-width="0.35"/>
<circle cx="112.40" cy="272.90" r="1.20" fill="#f1ece6" stroke="#e2d8d2" stroke-width="0.3"/>
<circle cx="119.60" cy="272.90" r="1.20" fill="#f1ece6" stroke="#e2d8d2" stroke-width="0.3"/>
<circle cx="126.80" cy="272.90" r="2.00" fill="#ec7f32" stroke="#cb6d2b" stroke-width="0.35"/>
<circle cx="134.00" cy="272.90" r="2.70" fill="#e4582e" stroke="#c44c28" stroke-width="0.35"/>
<circle cx="141.20" cy="272.90" r="3.00" fill="#da3a23" stroke="#bb321e" stroke-width="0.35"/>
<circle cx="148.40" cy="272.90" r="1.20" fill="#f1ece6" stroke="#e2d8d2" stroke-width="0.3"/>
<circle cx="155.60" cy="272.90" r="4.20" fill="#f6d778" stroke="#d4b967" stroke-width="0.35"/>
<circle cx="162.80" cy="272.90" r="1.20" fill="#f1ece6" stroke="#e2d8d2" stroke-width="0.3"/>
<circle cx="170.00" cy="272.90" r="1.80" fill="#f3c550" stroke="#d1a945" stroke-width="0.35"/>
<circle cx="177.20" cy="272.90" r="2.20" fill="#ec7f32" stroke="#cb6d2b" stroke-width="0.35"/>
<circle cx="184.40" cy="272.90" r="2.70" fill="#dc3f25" stroke="#bd3620" stroke-width="0.35"/>
<circle cx="191.60" cy="272.90" r="2.70" fill="#ec7f32" stroke="#cb6d2b" stroke-width="0.35"/>
<circle cx="198.80" cy="272.90" r="2.80" fill="#e97231" stroke="#c8622a" stroke-width="0.35"/>
<circle cx="206.00" cy="272.90" r="3.20" fill="#d83220" stroke="#ba2b1c" stroke-width="0.35"/>
<text x="63.60" y="275.25" font-size="6.6" text-anchor="end" fill="#262626" >C11</text>
<circle cx="69.20" cy="283.06" r="1.80" fill="#f3c550" stroke="#d1a945" stroke-width="0.35"/>
<circle cx="76.40" cy="283.06" r="0.90" fill="#cbba83" stroke="none" stroke-width="0.5"/>
<circle cx="83.60" cy="283.06" r="3.20" fill="#dc3f25" stroke="#bd3620" stroke-width="0.35"/>
<circle cx="90.80" cy="283.06" r="3.20" fill="#dc3f25" stroke="#bd3620" stroke-width="0.35"/>
<circle cx="98.00" cy="283.06" r="3.00" fill="#da3a23" stroke="#bb321e" stroke-width="0.35"/>
<circle cx="105.20" cy="283.06" r="1.20" fill="#cbb578" stroke="none" stroke-width="0.5"/>
<circle cx="112.40" cy="283.06" r="0.80" fill="#bc624a" stroke="none" stroke-width="0.5"/>
<circle cx="119.60" cy="283.06" r="1.20" fill="#f1ece6" stroke="#e2d8d2" stroke-width="0.3"/>
<circle cx="126.80" cy="283.06" r="4.30" fill="#ef9836" stroke="#ce832e" stroke-width="0.35"/>
<circle cx="134.00" cy="283.06" r="1.20" fill="#f1ece6" stroke="#e2d8d2" stroke-width="0.3"/>
<circle cx="141.20" cy="283.06" r="1.20" fill="#f1ece6" stroke="#e2d8d2" stroke-width="0.3"/>
<circle cx="148.40" cy="283.06" r="1.20" fill="#f1ece6" stroke="#e2d8d2" stroke-width="0.3"/>
<circle cx="155.60" cy="283.06" r="1.20" fill="#f1ece6" stroke="#e2d8d2" stroke-width="0.3"/>
<circle cx="162.80" cy="283.06" r="1.20" fill="#f1ece6" stroke="#e2d8d2" stroke-width="0.3"/>
<circle cx="170.00" cy="283.06" r="1.20" fill="#f1ece6" stroke="#e2d8d2" stroke-width="0.3"/>
<circle cx="177.20" cy="283.06" r="1.20" fill="#f1ece6" stroke="#e2d8d2" stroke-width="0.3"/>
<circle cx="184.40" cy="283.06" r="1.20" fill="#f1ece6" stroke="#e2d8d2" stroke-width="0.3"/>
<circle cx="191.60" cy="283.06" r="2.50" fill="#ec7f32" stroke="#cb6d2b" stroke-width="0.35"/>
<circle cx="198.80" cy="283.06" r="1.20" fill="#f1ece6" stroke="#e2d8d2" stroke-width="0.3"/>
<circle cx="206.00" cy="283.06" r="3.50" fill="#d83220" stroke="#ba2b1c" stroke-width="0.35"/>
<text x="63.60" y="285.41" font-size="6.6" text-anchor="end" fill="#262626" >C10</text>
<circle cx="69.20" cy="293.21" r="1.20" fill="#cab06d" stroke="none" stroke-width="0.5"/>
<circle cx="76.40" cy="293.21" r="1.20" fill="#f1ece6" stroke="#e2d8d2" stroke-width="0.3"/>
<circle cx="83.60" cy="293.21" r="2.20" fill="#ef9836" stroke="#ce832e" stroke-width="0.35"/>
<circle cx="90.80" cy="293.21" r="1.50" fill="#cbb578" stroke="none" stroke-width="0.5"/>
<circle cx="98.00" cy="293.21" r="2.50" fill="#e66530" stroke="#c65729" stroke-width="0.35"/>
<circle cx="105.20" cy="293.21" r="2.20" fill="#e4582e" stroke="#c44c28" stroke-width="0.35"/>
<circle cx="112.40" cy="293.21" r="1.20" fill="#f1ece6" stroke="#e2d8d2" stroke-width="0.3"/>
<circle cx="119.60" cy="293.21" r="1.20" fill="#f1ece6" stroke="#e2d8d2" stroke-width="0.3"/>
<circle cx="126.80" cy="293.21" r="4.20" fill="#f1b03a" stroke="#cf9732" stroke-width="0.35"/>
<circle cx="134.00" cy="293.21" r="1.20" fill="#f1ece6" stroke="#e2d8d2" stroke-width="0.3"/>
<circle cx="141.20" cy="293.21" r="2.70" fill="#f2bc3c" stroke="#d0a234" stroke-width="0.35"/>
<circle cx="148.40" cy="293.21" r="1.20" fill="#f1ece6" stroke="#e2d8d2" stroke-width="0.3"/>
<circle cx="155.60" cy="293.21" r="1.20" fill="#f1ece6" stroke="#e2d8d2" stroke-width="0.3"/>
<circle cx="162.80" cy="293.21" r="1.20" fill="#f1ece6" stroke="#e2d8d2" stroke-width="0.3"/>
<circle cx="170.00" cy="293.21" r="2.70" fill="#d83220" stroke="#ba2b1c" stroke-width="0.35"/>
<circle cx="177.20" cy="293.21" r="1.20" fill="#f1ece6" stroke="#e2d8d2" stroke-width="0.3"/>
<circle cx="184.40" cy="293.21" r="1.80" fill="#f7e08c" stroke="#d4c178" stroke-width="0.35"/>
<circle cx="191.60" cy="293.21" r="1.20" fill="#f1ece6" stroke="#e2d8d2" stroke-width="0.3"/>
<circle cx="198.80" cy="293.21" r="3.50" fill="#ec7f32" stroke="#cb6d2b" stroke-width="0.35"/>
<circle cx="206.00" cy="293.21" r="3.00" fill="#ee8c34" stroke="#cd782d" stroke-width="0.35"/>
<text x="63.60" y="295.56" font-size="6.6" text-anchor="end" fill="#262626" >C8</text>
<circle cx="69.20" cy="303.37" r="1.20" fill="#f1ece6" stroke="#e2d8d2" stroke-width="0.3"/>
<circle cx="76.40" cy="303.37" r="1.20" fill="#f1ece6" stroke="#e2d8d2" stroke-width="0.3"/>
<circle cx="83.60" cy="303.37" r="1.20" fill="#c9a657" stroke="none" stroke-width="0.5"/>
<circle cx="90.80" cy="303.37" r="1.30" fill="#c47e51" stroke="none" stroke-width="0.5"/>
<circle cx="98.00" cy="303.37" r="1.50" fill="#c89955" stroke="none" stroke-width="0.5"/>
<circle cx="105.20" cy="303.37" r="2.20" fill="#ee8c34" stroke="#cd782d" stroke-width="0.35"/>
<circle cx="112.40" cy="303.37" r="0.80" fill="#bc624a" stroke="none" stroke-width="0.5"/>
<circle cx="119.60" cy="303.37" r="1.30" fill="#c27750" stroke="none" stroke-width="0.5"/>
<circle cx="126.80" cy="303.37" r="4.20" fill="#d62e1f" stroke="#b8281b" stroke-width="0.35"/>
<circle cx="134.00" cy="303.37" r="2.70" fill="#f2bc3c" stroke="#d0a234" stroke-width="0.35"/>
<circle cx="141.20" cy="303.37" r="3.20" fill="#ec7f32" stroke="#cb6d2b" stroke-width="0.35"/>
<circle cx="148.40" cy="303.37" r="1.20" fill="#f1ece6" stroke="#e2d8d2" stroke-width="0.3"/>
<circle cx="155.60" cy="303.37" r="1.20" fill="#f1ece6" stroke="#e2d8d2" stroke-width="0.3"/>
<circle cx="162.80" cy="303.37" r="3.00" fill="#e97231" stroke="#c8622a" stroke-width="0.35"/>
<circle cx="170.00" cy="303.37" r="2.50" fill="#f0a438" stroke="#ce8d30" stroke-width="0.35"/>
<circle cx="177.20" cy="303.37" r="2.20" fill="#f2bc3c" stroke="#d0a234" stroke-width="0.35"/>
<circle cx="184.40" cy="303.37" r="3.50" fill="#dc3f25" stroke="#bd3620" stroke-width="0.35"/>
<circle cx="191.60" cy="303.37" r="2.20" fill="#ee8c34" stroke="#cd782d" stroke-width="0.35"/>
<circle cx="198.80" cy="303.37" r="2.80" fill="#f3c550" stroke="#d1a945" stroke-width="0.35"/>
<circle cx="206.00" cy="303.37" r="3.20" fill="#e04c2a" stroke="#c14124" stroke-width="0.35"/>
<text x="63.60" y="305.72" font-size="6.6" text-anchor="end" fill="#262626" >C4</text>
<circle cx="69.20" cy="313.52" r="1.20" fill="#f1ece6" stroke="#e2d8d2" stroke-width="0.3"/>
<circle cx="76.40" cy="313.52" r="1.20" fill="#f1ece6" stroke="#e2d8d2" stroke-width="0.3"/>
<circle cx="83.60" cy="313.52" r="1.20" fill="#f1ece6" stroke="#e2d8d2" stroke-width="0.3"/>
<circle cx="90.80" cy="313.52" r="1.20" fill="#f1ece6" stroke="#e2d8d2" stroke-width="0.3"/>
<circle cx="98.00" cy="313.52" r="1.50" fill="#c9a657" stroke="none" stroke-width="0.5"/>
<circle cx="105.20" cy="313.52" r="1.30" fill="#ccbd8e" stroke="none" stroke-width="0.5"/>
<circle cx="112.40" cy="313.52" r="1.20" fill="#f1ece6" stroke="#e2d8d2" stroke-width="0.3"/>
<circle cx="119.60" cy="313.52" r="1.20" fill="#f1ece6" stroke="#e2d8d2" stroke-width="0.3"/>
<circle cx="126.80" cy="313.52" r="4.30" fill="#d62e1f" stroke="#b8281b" stroke-width="0.35"/>
<circle cx="134.00" cy="313.52" r="3.20" fill="#ee8c34" stroke="#cd782d" stroke-width="0.35"/>
<circle cx="141.20" cy="313.52" r="3.50" fill="#e97231" stroke="#c8622a" stroke-width="0.35"/>
<circle cx="148.40" cy="313.52" r="3.70" fill="#ee8c34" stroke="#cd782d" stroke-width="0.35"/>
<circle cx="155.60" cy="313.52" r="1.20" fill="#f1ece6" stroke="#e2d8d2" stroke-width="0.3"/>
<circle cx="162.80" cy="313.52" r="3.00" fill="#e4582e" stroke="#c44c28" stroke-width="0.35"/>
<circle cx="170.00" cy="313.52" r="2.50" fill="#f2bc3c" stroke="#d0a234" stroke-width="0.35"/>
<circle cx="177.20" cy="313.52" r="2.70" fill="#ef9836" stroke="#ce832e" stroke-width="0.35"/>
<circle cx="184.40" cy="313.52" r="3.20" fill="#ee8c34" stroke="#cd782d" stroke-width="0.35"/>
<circle cx="191.60" cy="313.52" r="2.00" fill="#f8e5a0" stroke="#d5c58a" stroke-width="0.35"/>
<circle cx="198.80" cy="313.52" r="1.50" fill="#cbba83" stroke="none" stroke-width="0.5"/>
<circle cx="206.00" cy="313.52" r="2.50" fill="#f2bc3c" stroke="#d0a234" stroke-width="0.35"/>
<text x="63.60" y="315.88" font-size="6.6" text-anchor="end" fill="#262626" >C2</text>
<circle cx="69.20" cy="323.68" r="1.20" fill="#f1ece6" stroke="#e2d8d2" stroke-width="0.3"/>
<circle cx="76.40" cy="323.68" r="1.20" fill="#f1ece6" stroke="#e2d8d2" stroke-width="0.3"/>
<circle cx="83.60" cy="323.68" r="1.20" fill="#f1ece6" stroke="#e2d8d2" stroke-width="0.3"/>
<circle cx="90.80" cy="323.68" r="0.90" fill="#c68c53" stroke="none" stroke-width="0.5"/>
<circle cx="98.00" cy="323.68" r="1.20" fill="#f1ece6" stroke="#e2d8d2" stroke-width="0.3"/>
<circle cx="105.20" cy="323.68" r="1.30" fill="#ccbd8e" stroke="none" stroke-width="0.5"/>
<circle cx="112.40" cy="323.68" r="1.20" fill="#f1ece6" stroke="#e2d8d2" stroke-width="0.3"/>
<circle cx="119.60" cy="323.68" r="1.20" fill="#f1ece6" stroke="#e2d8d2" stroke-width="0.3"/>
<circle cx="126.80" cy="323.68" r="4.30" fill="#e04c2a" stroke="#c14124" stroke-width="0.35"/>
<circle cx="134.00" cy="323.68" r="4.00" fill="#de4427" stroke="#bf3a22" stroke-width="0.35"/>
<circle cx="141.20" cy="323.68" r="4.00" fill="#e04c2a" stroke="#c14124" stroke-width="0.35"/>
<circle cx="148.40" cy="323.68" r="1.20" fill="#f1ece6" stroke="#e2d8d2" stroke-width="0.3"/>
<circle cx="155.60" cy="323.68" r="1.20" fill="#f1ece6" stroke="#e2d8d2" stroke-width="0.3"/>
<circle cx="162.80" cy="323.68" r="1.20" fill="#f1ece6" stroke="#e2d8d2" stroke-width="0.3"/>
<circle cx="170.00" cy="323.68" r="2.20" fill="#f7e08c" stroke="#d4c178" stroke-width="0.35"/>
<circle cx="177.20" cy="323.68" r="2.50" fill="#f1b03a" stroke="#cf9732" stroke-width="0.35"/>
<circle cx="184.40" cy="323.68" r="2.50" fill="#f7e08c" stroke="#d4c178" stroke-width="0.35"/>
<circle cx="191.60" cy="323.68" r="1.20" fill="#f1ece6" stroke="#e2d8d2" stroke-width="0.3"/>
<circle cx="198.80" cy="323.68" r="1.20" fill="#f1ece6" stroke="#e2d8d2" stroke-width="0.3"/>
<circle cx="206.00" cy="323.68" r="2.00" fill="#f8e8ac" stroke="#d5c894" stroke-width="0.35"/>
<text x="63.60" y="326.03" font-size="6.6" text-anchor="end" fill="#262626" >C7</text>
<circle cx="69.20" cy="333.83" r="1.20" fill="#f1ece6" stroke="#e2d8d2" stroke-width="0.3"/>
<circle cx="76.40" cy="333.83" r="1.20" fill="#f1ece6" stroke="#e2d8d2" stroke-width="0.3"/>
<circle cx="83.60" cy="333.83" r="1.20" fill="#f1ece6" stroke="#e2d8d2" stroke-width="0.3"/>
<circle cx="90.80" cy="333.83" r="0.90" fill="#c68c53" stroke="none" stroke-width="0.5"/>
<circle cx="98.00" cy="333.83" r="1.20" fill="#f1ece6" stroke="#e2d8d2" stroke-width="0.3"/>
<circle cx="105.20" cy="333.83" r="1.30" fill="#ccbf95" stroke="none" stroke-width="0.5"/>
<circle cx="112.40" cy="333.83" r="1.20" fill="#f1ece6" stroke="#e2d8d2" stroke-width="0.3"/>
<circle cx="119.60" cy="333.83" r="1.20" fill="#f1ece6" stroke="#e2d8d2" stroke-width="0.3"/>
<circle cx="126.80" cy="333.83" r="4.20" fill="#da3a23" stroke="#bb321e" stroke-width="0.35"/>
<circle cx="134.00" cy="333.83" r="3.50" fill="#e97231" stroke="#c8622a" stroke-width="0.35"/>
<circle cx="141.20" cy="333.83" r="3.70" fill="#e86d30" stroke="#c85e29" stroke-width="0.35"/>
<circle cx="148.40" cy="333.83" r="1.50" fill="#ccbd8e" stroke="none" stroke-width="0.5"/>
<circle cx="155.60" cy="333.83" r="1.20" fill="#f1ece6" stroke="#e2d8d2" stroke-width="0.3"/>
<circle cx="162.80" cy="333.83" r="1.20" fill="#f1ece6" stroke="#e2d8d2" stroke-width="0.3"/>
<circle cx="170.00" cy="333.83" r="2.00" fill="#f7e08c" stroke="#d4c178" stroke-width="0.35"/>
<circle cx="177.20" cy="333.83" r="2.50" fill="#f1b03a" stroke="#cf9732" stroke-width="0.35"/>
<circle cx="184.40" cy="333.83" r="2.00" fill="#f8e5a0" stroke="#d5c58a" stroke-width="0.35"/>
<circle cx="191.60" cy="333.83" r="3.80" fill="#dc3f25" stroke="#bd3620" stroke-width="0.35"/>
<circle cx="198.80" cy="333.83" r="2.00" fill="#f8e5a0" stroke="#d5c58a" stroke-width="0.35"/>
<circle cx="206.00" cy="333.83" r="1.50" fill="#ccc099" stroke="none" stroke-width="0.5"/>
<text x="63.60" y="336.19" font-size="6.6" text-anchor="end" fill="#262626" >C9</text>
<circle cx="69.20" cy="343.99" r="1.20" fill="#f1ece6" stroke="#e2d8d2" stroke-width="0.3"/>
<circle cx="76.40" cy="343.99" r="1.20" fill="#f1ece6" stroke="#e2d8d2" stroke-width="0.3"/>
<circle cx="83.60" cy="343.99" r="1.20" fill="#ccbd8e" stroke="none" stroke-width="0.5"/>
<circle cx="90.80" cy="343.99" r="1.30" fill="#ccbd8e" stroke="none" stroke-width="0.5"/>
<circle cx="98.00" cy="343.99" r="1.20" fill="#c68c53" stroke="none" stroke-width="0.5"/>
<circle cx="105.20" cy="343.99" r="2.80" fill="#d62e1f" stroke="#b8281b" stroke-width="0.35"/>
<circle cx="112.40" cy="343.99" r="1.20" fill="#f1ece6" stroke="#e2d8d2" stroke-width="0.3"/>
<circle cx="119.60" cy="343.99" r="1.20" fill="#f1ece6" stroke="#e2d8d2" stroke-width="0.3"/>
<circle cx="126.80" cy="343.99" r="4.20" fill="#ee8c34" stroke="#cd782d" stroke-width="0.35"/>
<circle cx="134.00" cy="343.99" r="3.00" fill="#f2bc3c" stroke="#d0a234" stroke-width="0.35"/>
<circle cx="141.20" cy="343.99" r="3.50" fill="#e97231" stroke="#c8622a" stroke-width="0.35"/>
<circle cx="148.40" cy="343.99" r="1.20" fill="#f1ece6" stroke="#e2d8d2" stroke-width="0.3"/>
<circle cx="155.60" cy="343.99" r="1.20" fill="#f1ece6" stroke="#e2d8d2" stroke-width="0.3"/>
<circle cx="162.80" cy="343.99" r="1.20" fill="#f1ece6" stroke="#e2d8d2" stroke-width="0.3"/>
<circle cx="170.00" cy="343.99" r="1.50" fill="#ccbd8e" stroke="none" stroke-width="0.5"/>
<circle cx="177.20" cy="343.99" r="2.50" fill="#da3a23" stroke="#bb321e" stroke-width="0.35"/>
<circle cx="184.40" cy="343.99" r="2.20" fill="#f6d778" stroke="#d4b967" stroke-width="0.35"/>
<circle cx="191.60" cy="343.99" r="4.20" fill="#d62e1f" stroke="#b8281b" stroke-width="0.35"/>
<circle cx="198.80" cy="343.99" r="4.20" fill="#d62e1f" stroke="#b8281b" stroke-width="0.35"/>
<circle cx="206.00" cy="343.99" r="2.00" fill="#f8e8ac" stroke="#d5c894" stroke-width="0.35"/>
<text x="63.60" y="346.34" font-size="6.6" text-anchor="end" fill="#262626" >C5</text>
<circle cx="69.20" cy="354.14" r="1.20" fill="#f1ece6" stroke="#e2d8d2" stroke-width="0.3"/>
<circle cx="76.40" cy="354.14" r="1.20" fill="#f1ece6" stroke="#e2d8d2" stroke-width="0.3"/>
<circle cx="83.60" cy="354.14" r="1.20" fill="#f1ece6" stroke="#e2d8d2" stroke-width="0.3"/>
<circle cx="90.80" cy="354.14" r="1.20" fill="#f1ece6" stroke="#e2d8d2" stroke-width="0.3"/>
<circle cx="98.00" cy="354.14" r="1.20" fill="#f1ece6" stroke="#e2d8d2" stroke-width="0.3"/>
<circle cx="105.20" cy="354.14" r="1.20" fill="#f1ece6" stroke="#e2d8d2" stroke-width="0.3"/>
<circle cx="112.40" cy="354.14" r="1.20" fill="#f1ece6" stroke="#e2d8d2" stroke-width="0.3"/>
<circle cx="119.60" cy="354.14" r="1.20" fill="#f1ece6" stroke="#e2d8d2" stroke-width="0.3"/>
<circle cx="126.80" cy="354.14" r="4.30" fill="#d62e1f" stroke="#b8281b" stroke-width="0.35"/>
<circle cx="134.00" cy="354.14" r="3.50" fill="#ec7f32" stroke="#cb6d2b" stroke-width="0.35"/>
<circle cx="141.20" cy="354.14" r="3.70" fill="#ea7732" stroke="#c9662b" stroke-width="0.35"/>
<circle cx="148.40" cy="354.14" r="3.50" fill="#e86d30" stroke="#c85e29" stroke-width="0.35"/>
<circle cx="155.60" cy="354.14" r="4.20" fill="#f1b03a" stroke="#cf9732" stroke-width="0.35"/>
<circle cx="162.80" cy="354.14" r="1.20" fill="#f1ece6" stroke="#e2d8d2" stroke-width="0.3"/>
<circle cx="170.00" cy="354.14" r="2.30" fill="#f2bc3c" stroke="#d0a234" stroke-width="0.35"/>
<circle cx="177.20" cy="354.14" r="3.00" fill="#ee8c34" stroke="#cd782d" stroke-width="0.35"/>
<circle cx="184.40" cy="354.14" r="2.30" fill="#f8e5a0" stroke="#d5c58a" stroke-width="0.35"/>
<circle cx="191.60" cy="354.14" r="2.50" fill="#f2bc3c" stroke="#d0a234" stroke-width="0.35"/>
<circle cx="198.80" cy="354.14" r="1.50" fill="#ccbf95" stroke="none" stroke-width="0.5"/>
<circle cx="206.00" cy="354.14" r="2.00" fill="#f8e5a0" stroke="#d5c58a" stroke-width="0.35"/>
<text x="63.60" y="356.50" font-size="6.6" text-anchor="end" fill="#262626" >C6</text>
<circle cx="69.20" cy="364.30" r="1.20" fill="#f1ece6" stroke="#e2d8d2" stroke-width="0.3"/>
<circle cx="76.40" cy="364.30" r="1.20" fill="#f1ece6" stroke="#e2d8d2" stroke-width="0.3"/>
<circle cx="83.60" cy="364.30" r="1.20" fill="#f1ece6" stroke="#e2d8d2" stroke-width="0.3"/>
<circle cx="90.80" cy="364.30" r="1.20" fill="#f1ece6" stroke="#e2d8d2" stroke-width="0.3"/>
<circle cx="98.00" cy="364.30" r="1.20" fill="#f1ece6" stroke="#e2d8d2" stroke-width="0.3"/>
<circle cx="105.20" cy="364.30" r="1.20" fill="#f1ece6" stroke="#e2d8d2" stroke-width="0.3"/>
<circle cx="112.40" cy="364.30" r="1.20" fill="#f1ece6" stroke="#e2d8d2" stroke-width="0.3"/>
<circle cx="119.60" cy="364.30" r="1.20" fill="#f1ece6" stroke="#e2d8d2" stroke-width="0.3"/>
<circle cx="126.80" cy="364.30" r="4.30" fill="#f9ebbc" stroke="#d6caa2" stroke-width="0.35"/>
<circle cx="134.00" cy="364.30" r="3.80" fill="#e4582e" stroke="#c44c28" stroke-width="0.35"/>
<circle cx="141.20" cy="364.30" r="3.80" fill="#e97231" stroke="#c8622a" stroke-width="0.35"/>
<circle cx="148.40" cy="364.30" r="3.80" fill="#e97231" stroke="#c8622a" stroke-width="0.35"/>
<circle cx="155.60" cy="364.30" r="3.80" fill="#ee8c34" stroke="#cd782d" stroke-width="0.35"/>
<circle cx="162.80" cy="364.30" r="1.20" fill="#f1ece6" stroke="#e2d8d2" stroke-width="0.3"/>
<circle cx="170.00" cy="364.30" r="2.30" fill="#f2bc3c" stroke="#d0a234" stroke-width="0.35"/>
<circle cx="177.20" cy="364.30" r="3.00" fill="#ee8c34" stroke="#cd782d" stroke-width="0.35"/>
<circle cx="184.40" cy="364.30" r="3.00" fill="#f2bc3c" stroke="#d0a234" stroke-width="0.35"/>
<circle cx="191.60" cy="364.30" r="2.80" fill="#f2bc3c" stroke="#d0a234" stroke-width="0.35"/>
<circle cx="198.80" cy="364.30" r="1.50" fill="#ccbd8e" stroke="none" stroke-width="0.5"/>
<circle cx="206.00" cy="364.30" r="2.50" fill="#f2bc3c" stroke="#d0a234" stroke-width="0.35"/>
<text x="63.60" y="366.65" font-size="6.6" text-anchor="end" fill="#262626" >C3</text>
<circle cx="69.20" cy="374.45" r="1.20" fill="#f1ece6" stroke="#e2d8d2" stroke-width="0.3"/>
<circle cx="76.40" cy="374.45" r="1.30" fill="#cbba83" stroke="none" stroke-width="0.5"/>
<circle cx="83.60" cy="374.45" r="1.20" fill="#f1ece6" stroke="#e2d8d2" stroke-width="0.3"/>
<circle cx="90.80" cy="374.45" r="1.20" fill="#f1ece6" stroke="#e2d8d2" stroke-width="0.3"/>
<circle cx="98.00" cy="374.45" r="1.30" fill="#cbb578" stroke="none" stroke-width="0.5"/>
<circle cx="105.20" cy="374.45" r="1.30" fill="#cbb578" stroke="none" stroke-width="0.5"/>
<circle cx="112.40" cy="374.45" r="1.20" fill="#f1ece6" stroke="#e2d8d2" stroke-width="0.3"/>
<circle cx="119.60" cy="374.45" r="0.90" fill="#c89955" stroke="none" stroke-width="0.5"/>
<circle cx="126.80" cy="374.45" r="4.20" fill="#f0a438" stroke="#ce8d30" stroke-width="0.35"/>
<circle cx="134.00" cy="374.45" r="3.20" fill="#f2bc3c" stroke="#d0a234" stroke-width="0.35"/>
<circle cx="141.20" cy="374.45" r="3.50" fill="#ef9836" stroke="#ce832e" stroke-width="0.35"/>
<circle cx="148.40" cy="374.45" r="3.80" fill="#e97231" stroke="#c8622a" stroke-width="0.35"/>
<circle cx="155.60" cy="374.45" r="3.80" fill="#ec7f32" stroke="#cb6d2b" stroke-width="0.35"/>
<circle cx="162.80" cy="374.45" r="4.20" fill="#d83220" stroke="#ba2b1c" stroke-width="0.35"/>
<circle cx="170.00" cy="374.45" r="2.20" fill="#f2bc3c" stroke="#d0a234" stroke-width="0.35"/>
<circle cx="177.20" cy="374.45" r="3.00" fill="#ee8c34" stroke="#cd782d" stroke-width="0.35"/>
<circle cx="184.40" cy="374.45" r="3.00" fill="#f2bc3c" stroke="#d0a234" stroke-width="0.35"/>
<circle cx="191.60" cy="374.45" r="2.70" fill="#f2bc3c" stroke="#d0a234" stroke-width="0.35"/>
<circle cx="198.80" cy="374.45" r="2.00" fill="#f8e5a0" stroke="#d5c58a" stroke-width="0.35"/>
<circle cx="206.00" cy="374.45" r="2.50" fill="#f2bc3c" stroke="#d0a234" stroke-width="0.35"/>
<text x="63.60" y="376.81" font-size="6.6" text-anchor="end" fill="#262626" >C1</text>
<circle cx="69.20" cy="384.61" r="4.20" fill="#d62e1f" stroke="#b8281b" stroke-width="0.35"/>
<circle cx="76.40" cy="384.61" r="1.50" fill="#c47e51" stroke="none" stroke-width="0.5"/>
<circle cx="83.60" cy="384.61" r="0.90" fill="#cab06d" stroke="none" stroke-width="0.5"/>
<circle cx="90.80" cy="384.61" r="0.90" fill="#cab06d" stroke="none" stroke-width="0.5"/>
<circle cx="98.00" cy="384.61" r="1.20" fill="#f1ece6" stroke="#e2d8d2" stroke-width="0.3"/>
<circle cx="105.20" cy="384.61" r="1.50" fill="#ccbf95" stroke="none" stroke-width="0.5"/>
<circle cx="112.40" cy="384.61" r="1.20" fill="#f1ece6" stroke="#e2d8d2" stroke-width="0.3"/>
<circle cx="119.60" cy="384.61" r="1.20" fill="#f1ece6" stroke="#e2d8d2" stroke-width="0.3"/>
<circle cx="126.80" cy="384.61" r="4.20" fill="#ee9135" stroke="#cd7d2e" stroke-width="0.35"/>
<circle cx="134.00" cy="384.61" r="2.50" fill="#f8e5a0" stroke="#d5c58a" stroke-width="0.35"/>
<circle cx="141.20" cy="384.61" r="3.50" fill="#ed8733" stroke="#cc742c" stroke-width="0.35"/>
<circle cx="148.40" cy="384.61" r="3.80" fill="#dc3f25" stroke="#bd3620" stroke-width="0.35"/>
<circle cx="155.60" cy="384.61" r="4.00" fill="#d83220" stroke="#ba2b1c" stroke-width="0.35"/>
<circle cx="162.80" cy="384.61" r="3.50" fill="#e4582e" stroke="#c44c28" stroke-width="0.35"/>
<circle cx="170.00" cy="384.61" r="3.00" fill="#ed8733" stroke="#cc742c" stroke-width="0.35"/>
<circle cx="177.20" cy="384.61" r="3.30" fill="#da3a23" stroke="#bb321e" stroke-width="0.35"/>
<circle cx="184.40" cy="384.61" r="3.20" fill="#f2b73b" stroke="#d09d33" stroke-width="0.35"/>
<circle cx="191.60" cy="384.61" r="1.50" fill="#ccbf95" stroke="none" stroke-width="0.5"/>
<circle cx="198.80" cy="384.61" r="1.50" fill="#ccbf95" stroke="none" stroke-width="0.5"/>
<circle cx="206.00" cy="384.61" r="2.00" fill="#f8e5a0" stroke="#d5c58a" stroke-width="0.35"/>
<text x="63.60" y="386.96" font-size="6.6" text-anchor="end" fill="#262626" >C12</text>
<line x1="43.80" y1="262.75" x2="43.80" y2="272.90" stroke="#222" stroke-width="0.8" />
<line x1="43.80" y1="262.75" x2="48.20" y2="262.75" stroke="#222" stroke-width="0.8" />
<line x1="43.80" y1="272.90" x2="48.20" y2="272.90" stroke="#222" stroke-width="0.8" />
<line x1="44.50" y1="283.06" x2="44.50" y2="293.21" stroke="#222" stroke-width="0.8" />
<line x1="44.50" y1="283.06" x2="48.20" y2="283.06" stroke="#222" stroke-width="0.8" />
<line x1="44.50" y1="293.21" x2="48.20" y2="293.21" stroke="#222" stroke-width="0.8" />
<line x1="41.60" y1="267.83" x2="41.60" y2="288.14" stroke="#222" stroke-width="0.8" />
<line x1="41.60" y1="267.83" x2="43.80" y2="267.83" stroke="#222" stroke-width="0.8" />
<line x1="41.60" y1="288.14" x2="44.50" y2="288.14" stroke="#222" stroke-width="0.8" />
<line x1="45.20" y1="303.37" x2="45.20" y2="313.52" stroke="#222" stroke-width="0.8" />
<line x1="45.20" y1="303.37" x2="48.20" y2="303.37" stroke="#222" stroke-width="0.8" />
<line x1="45.20" y1="313.52" x2="48.20" y2="313.52" stroke="#222" stroke-width="0.8" />
<line x1="43.60" y1="308.45" x2="43.60" y2="323.68" stroke="#222" stroke-width="0.8" />
<line x1="43.60" y1="308.45" x2="45.20" y2="308.45" stroke="#222" stroke-width="0.8" />
<line x1="43.60" y1="323.68" x2="48.20" y2="323.68" stroke="#222" stroke-width="0.8" />
<line x1="45.50" y1="333.83" x2="45.50" y2="343.99" stroke="#222" stroke-width="0.8" />
<line x1="45.50" y1="333.83" x2="48.20" y2="333.83" stroke="#222" stroke-width="0.8" />
<line x1="45.50" y1="343.99" x2="48.20" y2="343.99" stroke="#222" stroke-width="0.8" />
<line x1="42.40" y1="316.06" x2="42.40" y2="338.91" stroke="#222" stroke-width="0.8" />
<line x1="42.40" y1="316.06" x2="43.60" y2="316.06" stroke="#222" stroke-width="0.8" />
<line x1="42.40" y1="338.91" x2="45.50" y2="338.91" stroke="#222" stroke-width="0.8" />
<line x1="40.20" y1="277.98" x2="40.20" y2="327.49" stroke="#222" stroke-width="0.8" />
<line x1="40.20" y1="277.98" x2="41.60" y2="277.98" stroke="#222" stroke-width="0.8" />
<line x1="40.20" y1="327.49" x2="42.40" y2="327.49" stroke="#222" stroke-width="0.8" />
<line x1="46.30" y1="354.14" x2="46.30" y2="364.30" stroke="#222" stroke-width="0.8" />
<line x1="46.30" y1="354.14" x2="48.20" y2="354.14" stroke="#222" stroke-width="0.8" />
<line x1="46.30" y1="364.30" x2="48.20" y2="364.30" stroke="#222" stroke-width="0.8" />
<line x1="44.50" y1="359.22" x2="44.50" y2="374.45" stroke="#222" stroke-width="0.8" />
<line x1="44.50" y1="359.22" x2="46.30" y2="359.22" stroke="#222" stroke-width="0.8" />
<line x1="44.50" y1="374.45" x2="48.20" y2="374.45" stroke="#222" stroke-width="0.8" />
<line x1="42.90" y1="366.84" x2="42.90" y2="384.61" stroke="#222" stroke-width="0.8" />
<line x1="42.90" y1="366.84" x2="44.50" y2="366.84" stroke="#222" stroke-width="0.8" />
<line x1="42.90" y1="384.61" x2="48.20" y2="384.61" stroke="#222" stroke-width="0.8" />
<line x1="37.40" y1="302.74" x2="37.40" y2="375.72" stroke="#222" stroke-width="0.8" />
<line x1="37.40" y1="302.74" x2="40.20" y2="302.74" stroke="#222" stroke-width="0.8" />
<line x1="37.40" y1="375.72" x2="42.90" y2="375.72" stroke="#222" stroke-width="0.8" />
<line x1="78.10" y1="245.50" x2="150.60" y2="245.50" stroke="#222" stroke-width="0.8" />
<line x1="78.10" y1="245.50" x2="78.10" y2="253.30" stroke="#222" stroke-width="0.8" />
<line x1="69.20" y1="253.30" x2="76.40" y2="253.30" stroke="#222" stroke-width="0.8" />
<line x1="69.20" y1="253.30" x2="69.20" y2="256.80" stroke="#222" stroke-width="0.8" />
<line x1="76.40" y1="253.30" x2="76.40" y2="256.80" stroke="#222" stroke-width="0.8" />
<line x1="76.40" y1="253.30" x2="98.00" y2="253.30" stroke="#222" stroke-width="0.8" />
<line x1="83.00" y1="255.00" x2="98.60" y2="255.00" stroke="#888" stroke-width="1.0" />
<line x1="105.00" y1="255.00" x2="119.40" y2="255.00" stroke="#888" stroke-width="1.0" />
<line x1="98.00" y1="253.80" x2="108.00" y2="253.80" stroke="#222" stroke-width="0.8" />
<line x1="83.60" y1="255.00" x2="83.60" y2="256.80" stroke="#222" stroke-width="0.8" />
<line x1="90.80" y1="255.00" x2="90.80" y2="256.80" stroke="#222" stroke-width="0.8" />
<line x1="98.00" y1="255.00" x2="98.00" y2="256.80" stroke="#222" stroke-width="0.8" />
<line x1="105.20" y1="255.00" x2="105.20" y2="256.80" stroke="#222" stroke-width="0.8" />
<line x1="112.40" y1="255.00" x2="112.40" y2="256.80" stroke="#222" stroke-width="0.8" />
<line x1="119.60" y1="255.00" x2="119.60" y2="256.80" stroke="#222" stroke-width="0.8" />
<line x1="150.60" y1="245.50" x2="150.60" y2="249.40" stroke="#222" stroke-width="0.8" />
<line x1="132.30" y1="249.40" x2="168.00" y2="249.40" stroke="#222" stroke-width="0.8" />
<line x1="132.30" y1="249.40" x2="132.30" y2="252.30" stroke="#222" stroke-width="0.8" />
<line x1="126.80" y1="252.30" x2="137.80" y2="252.30" stroke="#222" stroke-width="0.8" />
<line x1="126.80" y1="252.30" x2="126.80" y2="256.80" stroke="#222" stroke-width="0.8" />
<line x1="137.80" y1="252.30" x2="137.80" y2="254.90" stroke="#222" stroke-width="0.8" />
<line x1="134.00" y1="254.90" x2="141.20" y2="254.90" stroke="#222" stroke-width="0.8" />
<line x1="134.00" y1="254.90" x2="134.00" y2="256.80" stroke="#222" stroke-width="0.8" />
<line x1="141.20" y1="254.90" x2="141.20" y2="256.80" stroke="#222" stroke-width="0.8" />
<line x1="152.00" y1="249.40" x2="152.00" y2="252.30" stroke="#222" stroke-width="0.8" />
<line x1="148.40" y1="252.30" x2="155.60" y2="252.30" stroke="#222" stroke-width="0.8" />
<line x1="148.40" y1="252.30" x2="148.40" y2="256.80" stroke="#222" stroke-width="0.8" />
<line x1="155.60" y1="252.30" x2="155.60" y2="256.80" stroke="#222" stroke-width="0.8" />
<line x1="168.00" y1="250.10" x2="183.00" y2="250.10" stroke="#888" stroke-width="1.0" />
<line x1="168.00" y1="249.40" x2="168.00" y2="250.40" stroke="#222" stroke-width="0.8" />
<line x1="183.00" y1="251.30" x2="197.00" y2="251.30" stroke="#222" stroke-width="0.8" />
<line x1="183.00" y1="250.10" x2="183.00" y2="251.30" stroke="#222" stroke-width="0.8" />
<line x1="162.80" y1="254.40" x2="170.00" y2="254.40" stroke="#222" stroke-width="0.8" />
<line x1="162.80" y1="254.40" x2="162.80" y2="256.80" stroke="#222" stroke-width="0.8" />
<line x1="170.00" y1="254.40" x2="170.00" y2="256.80" stroke="#222" stroke-width="0.8" />
<line x1="165.70" y1="250.30" x2="165.70" y2="254.40" stroke="#222" stroke-width="0.8" />
<line x1="177.20" y1="254.70" x2="184.40" y2="254.70" stroke="#222" stroke-width="0.8" />
<line x1="177.20" y1="254.70" x2="177.20" y2="256.80" stroke="#222" stroke-width="0.8" />
<line x1="184.40" y1="254.70" x2="184.40" y2="256.80" stroke="#222" stroke-width="0.8" />
<line x1="180.10" y1="251.30" x2="180.10" y2="254.70" stroke="#222" stroke-width="0.8" />
<line x1="191.60" y1="254.40" x2="198.80" y2="254.40" stroke="#222" stroke-width="0.8" />
<line x1="191.60" y1="254.40" x2="191.60" y2="256.80" stroke="#222" stroke-width="0.8" />
<line x1="198.80" y1="254.40" x2="198.80" y2="256.80" stroke="#222" stroke-width="0.8" />
<line x1="194.30" y1="251.30" x2="194.30" y2="254.40" stroke="#222" stroke-width="0.8" />
<line x1="198.80" y1="255.30" x2="206.00" y2="255.30" stroke="#222" stroke-width="0.8" />
<line x1="206.00" y1="255.30" x2="206.00" y2="256.80" stroke="#222" stroke-width="0.8" />
<line x1="197.00" y1="251.30" x2="197.00" y2="252.00" stroke="#222" stroke-width="0.8" />
<text x="68.60" y="395.10" font-size="6.2" text-anchor="end" fill="#262626" transform="rotate(-45 68.60 395.10)" >CD40L</text>
<text x="75.80" y="395.10" font-size="6.2" text-anchor="end" fill="#262626" transform="rotate(-45 75.80 395.10)" >IL-2</text>
<text x="83.00" y="395.10" font-size="6.2" text-anchor="end" fill="#262626" transform="rotate(-45 83.00 395.10)" >CD127</text>
<text x="90.20" y="395.10" font-size="6.2" text-anchor="end" fill="#262626" transform="rotate(-45 90.20 395.10)" >CCR7</text>
<text x="97.40" y="395.10" font-size="6.2" text-anchor="end" fill="#262626" transform="rotate(-45 97.40 395.10)" >CD27</text>
<text x="104.60" y="395.10" font-size="6.2" text-anchor="end" fill="#262626" transform="rotate(-45 104.60 395.10)" >TIGIT</text>
<text x="111.80" y="395.10" font-size="6.2" text-anchor="end" fill="#262626" transform="rotate(-45 111.80 395.10)" >CD28</text>
<text x="119.00" y="395.10" font-size="6.2" text-anchor="end" fill="#262626" transform="rotate(-45 119.00 395.10)" >Ki-67</text>
<text x="126.20" y="395.10" font-size="6.2" text-anchor="end" fill="#262626" transform="rotate(-45 126.20 395.10)" >4-1BB</text>
<text x="133.40" y="395.10" font-size="6.2" text-anchor="end" fill="#262626" transform="rotate(-45 133.40 395.10)" >CX<tspan font-size="4.2" baseline-shift="-1.7">3</tspan>CR1</text>
<text x="140.60" y="395.10" font-size="6.2" text-anchor="end" fill="#262626" transform="rotate(-45 140.60 395.10)" >Tbet</text>
<text x="147.80" y="395.10" font-size="6.2" text-anchor="end" fill="#262626" transform="rotate(-45 147.80 395.10)" >IFN-γ</text>
<text x="155.00" y="395.10" font-size="6.2" text-anchor="end" fill="#262626" transform="rotate(-45 155.00 395.10)" >TNF</text>
<text x="162.20" y="395.10" font-size="6.2" text-anchor="end" fill="#262626" transform="rotate(-45 162.20 395.10)" >CD107a</text>
<text x="169.40" y="395.10" font-size="6.2" text-anchor="end" fill="#262626" transform="rotate(-45 169.40 395.10)" >PD-1</text>
<text x="176.60" y="395.10" font-size="6.2" text-anchor="end" fill="#262626" transform="rotate(-45 176.60 395.10)" >CD57</text>
<text x="183.80" y="395.10" font-size="6.2" text-anchor="end" fill="#262626" transform="rotate(-45 183.80 395.10)" >HLA-DR</text>
<text x="191.00" y="395.10" font-size="6.2" text-anchor="end" fill="#262626" transform="rotate(-45 191.00 395.10)" >CD45RA</text>
<text x="198.20" y="395.10" font-size="6.2" text-anchor="end" fill="#262626" transform="rotate(-45 198.20 395.10)" >2B4</text>
<text x="205.40" y="395.10" font-size="6.2" text-anchor="end" fill="#262626" transform="rotate(-45 205.40 395.10)" >CD95</text>
<text x="212.10" y="265.05" font-size="6.6" text-anchor="start" fill="#262626" >IL-2<tspan font-size="4.2" baseline-shift="2.4">hi</tspan> T<tspan font-size="4.2" baseline-shift="-1.7">CM</tspan></text>
<text x="212.10" y="275.20" font-size="6.6" text-anchor="start" fill="#262626" >TNF<tspan font-size="4.2" baseline-shift="2.4">hi</tspan> T<tspan font-size="4.2" baseline-shift="-1.7">CM</tspan></text>
<text x="212.10" y="285.36" font-size="6.6" text-anchor="start" fill="#262626" >T<tspan font-size="4.2" baseline-shift="-1.7">CM</tspan></text>
<text x="212.10" y="295.51" font-size="6.6" text-anchor="start" fill="#262626" >T<tspan font-size="4.2" baseline-shift="-1.7">EM</tspan></text>
<text x="212.10" y="305.67" font-size="6.6" text-anchor="start" fill="#262626" >killer</text>
<text x="212.10" y="315.82" font-size="6.6" text-anchor="start" fill="#262626" >IFN-γ<tspan font-size="4.2" baseline-shift="2.4">hi</tspan> killer</text>
<text x="212.10" y="325.98" font-size="6.6" text-anchor="start" fill="#262626" >T<tspan font-size="4.2" baseline-shift="-1.7">EF</tspan></text>
<line x1="210.40" y1="334.30" x2="210.40" y2="343.50" stroke="#222" stroke-width="0.8" />
<text x="212.10" y="341.21" font-size="6.6" text-anchor="start" fill="#262626" >T<tspan font-size="4.2" baseline-shift="-1.7">EMRA</tspan></text>
<line x1="210.40" y1="354.50" x2="210.40" y2="362.50" stroke="#222" stroke-width="0.8" />
<text x="212.10" y="361.32" font-size="6.6" text-anchor="start" fill="#262626" >IFN-γ<tspan font-size="4.2" baseline-shift="2.4">lo</tspan>TNF<tspan font-size="4.2" baseline-shift="2.4">hi</tspan></text>
<text x="212.10" y="372.20" font-size="6.6" text-anchor="start" fill="#262626" >IFN-γ<tspan font-size="4.2" baseline-shift="2.4">hi</tspan>TNF<tspan font-size="4.2" baseline-shift="2.4">hi</tspan></text>
<text x="212.10" y="379.50" font-size="6.6" text-anchor="start" fill="#262626" >killer</text>
<text x="212.10" y="386.91" font-size="6.6" text-anchor="start" fill="#262626" >Multif</text>
<text x="8.40" y="297.20" font-size="6.4" text-anchor="middle" fill="#262626" transform="rotate(-90 8.40 297.20)" >Marker Freq (%)</text>
<circle cx="18.00" cy="282.30" r="3.70" fill="none" stroke="#222" stroke-width="0.6"/>
<text x="24.30" y="284.50" font-size="6.2" text-anchor="start" fill="#262626" >100</text>
<circle cx="18.00" cy="292.20" r="3.20" fill="none" stroke="#222" stroke-width="0.6"/>
<text x="24.30" y="294.40" font-size="6.2" text-anchor="start" fill="#262626" >75</text>
<circle cx="18.00" cy="301.10" r="2.60" fill="none" stroke="#222" stroke-width="0.6"/>
<text x="24.30" y="303.30" font-size="6.2" text-anchor="start" fill="#262626" >50</text>
<circle cx="18.00" cy="310.50" r="1.40" fill="none" stroke="#222" stroke-width="0.6"/>
<text x="24.30" y="312.70" font-size="6.2" text-anchor="start" fill="#262626" >25</text>
<defs><linearGradient id="mfi" x1="0" y1="1" x2="0" y2="0"><stop offset="0" stop-color="#fdf8e6"/><stop offset="0.2" stop-color="#fbe7a0"/><stop offset="0.45" stop-color="#f7c13a"/><stop offset="0.7" stop-color="#f08a38"/><stop offset="1" stop-color="#e02a1e"/></linearGradient><linearGradient id="plasma" x1="0" y1="1" x2="0" y2="0"><stop offset="0" stop-color="#2c2490"/><stop offset="0.25" stop-color="#7a24a0"/><stop offset="0.5" stop-color="#e0449c"/><stop offset="0.72" stop-color="#f29a3a"/><stop offset="1" stop-color="#f8e024"/></linearGradient></defs>
<rect x="14.90" y="331.00" width="6.20" height="35.00" fill="url(#mfi)" stroke="none" stroke-width="0.6" />
<text x="23.50" y="334.20" font-size="6.2" text-anchor="start" fill="#262626" >100</text>
<text x="23.50" y="342.70" font-size="6.2" text-anchor="start" fill="#262626" >75</text>
<text x="23.50" y="351.20" font-size="6.2" text-anchor="start" fill="#262626" >50</text>
<text x="23.50" y="359.70" font-size="6.2" text-anchor="start" fill="#262626" >25</text>
<text x="23.50" y="368.20" font-size="6.2" text-anchor="start" fill="#262626" >0</text>
<text x="5.50" y="349.20" font-size="6.4" text-anchor="middle" fill="#262626" transform="rotate(-90 5.50 349.20)" >Scaled</text>
<text x="13.00" y="346.80" font-size="6.4" text-anchor="middle" fill="#262626" transform="rotate(-90 13.00 346.80)" >marker MFI</text>
<rect x="253.00" y="257.75" width="69.58" height="131.11" fill="#2a2c8c" stroke="none" stroke-width="0.6" />
<rect x="253.00" y="288.00" width="9.94" height="10.09" fill="#2c2b8d" shape-rendering="crispEdges"/>
<rect x="262.94" y="288.00" width="9.94" height="10.09" fill="#2c2b8d" shape-rendering="crispEdges"/>
<rect x="272.88" y="288.00" width="9.94" height="10.09" fill="#2c2b8d" shape-rendering="crispEdges"/>
<rect x="282.82" y="288.00" width="9.94" height="10.09" fill="#2c2b8d" shape-rendering="crispEdges"/>
<rect x="292.76" y="288.00" width="9.94" height="10.09" fill="#2c2b8d" shape-rendering="crispEdges"/>
<rect x="302.70" y="288.00" width="9.94" height="10.09" fill="#2c2b8d" shape-rendering="crispEdges"/>
<rect x="312.64" y="288.00" width="9.94" height="10.09" fill="#2c2b8d" shape-rendering="crispEdges"/>
<rect x="262.94" y="298.09" width="9.94" height="10.09" fill="#32288f" shape-rendering="crispEdges"/>
<rect x="272.88" y="298.09" width="9.94" height="10.09" fill="#4b2296" shape-rendering="crispEdges"/>
<rect x="282.82" y="298.09" width="9.94" height="10.09" fill="#4b2296" shape-rendering="crispEdges"/>
<rect x="292.76" y="298.09" width="9.94" height="10.09" fill="#8e2c9b" shape-rendering="crispEdges"/>
<rect x="302.70" y="298.09" width="9.94" height="10.09" fill="#8e2c9b" shape-rendering="crispEdges"/>
<rect x="312.64" y="298.09" width="9.94" height="10.09" fill="#672799" shape-rendering="crispEdges"/>
<rect x="253.00" y="308.18" width="9.94" height="10.09" fill="#7a2a9a" shape-rendering="crispEdges"/>
<rect x="262.94" y="308.18" width="9.94" height="10.09" fill="#f59832" shape-rendering="crispEdges"/>
<rect x="272.88" y="308.18" width="9.94" height="10.09" fill="#e8489e" shape-rendering="crispEdges"/>
<rect x="282.82" y="308.18" width="9.94" height="10.09" fill="#4b2296" shape-rendering="crispEdges"/>
<rect x="292.76" y="308.18" width="9.94" height="10.09" fill="#412494" shape-rendering="crispEdges"/>
<rect x="302.70" y="308.18" width="9.94" height="10.09" fill="#f59832" shape-rendering="crispEdges"/>
<rect x="312.64" y="308.18" width="9.94" height="10.09" fill="#6e289a" shape-rendering="crispEdges"/>
<rect x="262.94" y="318.26" width="9.94" height="10.09" fill="#2d2b8d" shape-rendering="crispEdges"/>
<rect x="272.88" y="318.26" width="9.94" height="10.09" fill="#4b2296" shape-rendering="crispEdges"/>
<rect x="282.82" y="318.26" width="9.94" height="10.09" fill="#4b2296" shape-rendering="crispEdges"/>
<rect x="292.76" y="318.26" width="9.94" height="10.09" fill="#4b2296" shape-rendering="crispEdges"/>
<rect x="302.70" y="318.26" width="9.94" height="10.09" fill="#a1309b" shape-rendering="crispEdges"/>
<rect x="312.64" y="318.26" width="9.94" height="10.09" fill="#5c2598" shape-rendering="crispEdges"/>
<rect x="262.94" y="328.35" width="9.94" height="10.09" fill="#2d2b8d" shape-rendering="crispEdges"/>
<rect x="272.88" y="328.35" width="9.94" height="10.09" fill="#482395" shape-rendering="crispEdges"/>
<rect x="282.82" y="328.35" width="9.94" height="10.09" fill="#482395" shape-rendering="crispEdges"/>
<rect x="292.76" y="328.35" width="9.94" height="10.09" fill="#482395" shape-rendering="crispEdges"/>
<rect x="302.70" y="328.35" width="9.94" height="10.09" fill="#672799" shape-rendering="crispEdges"/>
<rect x="312.64" y="328.35" width="9.94" height="10.09" fill="#4b2296" shape-rendering="crispEdges"/>
<rect x="262.94" y="338.43" width="9.94" height="10.09" fill="#2d2b8d" shape-rendering="crispEdges"/>
<rect x="272.88" y="338.43" width="9.94" height="10.09" fill="#372691" shape-rendering="crispEdges"/>
<rect x="282.82" y="338.43" width="9.94" height="10.09" fill="#372691" shape-rendering="crispEdges"/>
<rect x="292.76" y="338.43" width="9.94" height="10.09" fill="#372691" shape-rendering="crispEdges"/>
<rect x="302.70" y="338.43" width="9.94" height="10.09" fill="#3a2592" shape-rendering="crispEdges"/>
<rect x="312.64" y="338.43" width="9.94" height="10.09" fill="#372691" shape-rendering="crispEdges"/>
<rect x="262.94" y="348.51" width="9.94" height="10.09" fill="#3a2592" shape-rendering="crispEdges"/>
<rect x="272.88" y="348.51" width="9.94" height="10.09" fill="#602698" shape-rendering="crispEdges"/>
<rect x="282.82" y="348.51" width="9.94" height="10.09" fill="#4b2296" shape-rendering="crispEdges"/>
<rect x="292.76" y="348.51" width="9.94" height="10.09" fill="#7a2a9a" shape-rendering="crispEdges"/>
<rect x="302.70" y="348.51" width="9.94" height="10.09" fill="#f06070" shape-rendering="crispEdges"/>
<rect x="312.64" y="348.51" width="9.94" height="10.09" fill="#862b9b" shape-rendering="crispEdges"/>
<rect x="262.94" y="358.60" width="9.94" height="10.09" fill="#f59a31" shape-rendering="crispEdges"/>
<rect x="272.88" y="358.60" width="9.94" height="10.09" fill="#6e289a" shape-rendering="crispEdges"/>
<rect x="282.82" y="358.60" width="9.94" height="10.09" fill="#602698" shape-rendering="crispEdges"/>
<rect x="292.76" y="358.60" width="9.94" height="10.09" fill="#a1309b" shape-rendering="crispEdges"/>
<rect x="302.70" y="358.60" width="9.94" height="10.09" fill="#f06070" shape-rendering="crispEdges"/>
<rect x="312.64" y="358.60" width="9.94" height="10.09" fill="#862b9b" shape-rendering="crispEdges"/>
<rect x="253.00" y="368.69" width="9.94" height="10.09" fill="#a1309b" shape-rendering="crispEdges"/>
<rect x="262.94" y="368.69" width="9.94" height="10.09" fill="#6e289a" shape-rendering="crispEdges"/>
<rect x="272.88" y="368.69" width="9.94" height="10.09" fill="#a1309b" shape-rendering="crispEdges"/>
<rect x="282.82" y="368.69" width="9.94" height="10.09" fill="#b2369c" shape-rendering="crispEdges"/>
<rect x="292.76" y="368.69" width="9.94" height="10.09" fill="#862b9b" shape-rendering="crispEdges"/>
<rect x="302.70" y="368.69" width="9.94" height="10.09" fill="#f8e220" shape-rendering="crispEdges"/>
<rect x="312.64" y="368.69" width="9.94" height="10.09" fill="#f0666a" shape-rendering="crispEdges"/>
<rect x="323.90" y="257.75" width="19.90" height="131.11" fill="#2a2c8c" stroke="none" stroke-width="0.6" />
<rect x="323.9" y="308.18" width="9.95" height="10.09" fill="#32288f"/>
<rect x="323.9" y="368.69" width="9.95" height="10.09" fill="#32288f"/>
<text x="260.57" y="396.40" font-size="6.2" text-anchor="end" fill="#262626" transform="rotate(-45 260.57 396.40)" >Baseline</text>
<text x="270.51" y="396.40" font-size="6.2" text-anchor="end" fill="#262626" transform="rotate(-45 270.51 396.40)" >T2</text>
<text x="280.45" y="396.40" font-size="6.2" text-anchor="end" fill="#262626" transform="rotate(-45 280.45 396.40)" >T3</text>
<text x="290.39" y="396.40" font-size="6.2" text-anchor="end" fill="#262626" transform="rotate(-45 290.39 396.40)" >T4</text>
<text x="300.33" y="396.40" font-size="6.2" text-anchor="end" fill="#262626" transform="rotate(-45 300.33 396.40)" >T5</text>
<text x="310.27" y="396.40" font-size="6.2" text-anchor="end" fill="#262626" transform="rotate(-45 310.27 396.40)" >T6</text>
<text x="320.21" y="396.40" font-size="6.2" text-anchor="end" fill="#262626" transform="rotate(-45 320.21 396.40)" >T7</text>
<text x="331.35" y="396.40" font-size="6.2" text-anchor="end" fill="#262626" transform="rotate(-45 331.35 396.40)" >Donor</text>
<text x="341.25" y="396.40" font-size="6.2" text-anchor="end" fill="#262626" transform="rotate(-45 341.25 396.40)" >HC</text>
<rect x="356.00" y="305.50" width="6.90" height="35.00" fill="url(#plasma)" stroke="none" stroke-width="0.6" />
<text x="365.60" y="317.90" font-size="6.2" text-anchor="start" fill="#262626" >2.0</text>
<text x="365.60" y="330.10" font-size="6.2" text-anchor="start" fill="#262626" >1.0</text>
<text x="365.60" y="342.10" font-size="6.2" text-anchor="start" fill="#262626" >0.0</text>
<text x="352.80" y="322.80" font-size="6.2" text-anchor="middle" fill="#262626" transform="rotate(-90 352.80 322.80)" >% of CD8<tspan font-size="4.2" baseline-shift="2.4">+</tspan> T cells</text>
<line x1="430.60" y1="255.50" x2="430.60" y2="321.50" stroke="#222" stroke-width="1.0" />
<line x1="430.10" y1="321.00" x2="516.40" y2="321.00" stroke="#222" stroke-width="1.0" />
<line x1="428.40" y1="318.80" x2="430.60" y2="318.80" stroke="#222" stroke-width="0.7" />
<text x="425.40" y="320.90" font-size="6.6" text-anchor="end" fill="#262626" >0</text>
<line x1="428.40" y1="300.10" x2="430.60" y2="300.10" stroke="#222" stroke-width="0.7" />
<text x="425.40" y="302.20" font-size="6.6" text-anchor="end" fill="#262626" >10</text>
<line x1="428.40" y1="282.20" x2="430.60" y2="282.20" stroke="#222" stroke-width="0.7" />
<text x="425.40" y="284.30" font-size="6.6" text-anchor="end" fill="#262626" >100</text>
<line x1="428.40" y1="264.30" x2="430.60" y2="264.30" stroke="#222" stroke-width="0.7" />
<text x="425.40" y="266.40" font-size="6.6" text-anchor="end" fill="#262626" >1000</text>
<line x1="434.40" y1="321.00" x2="434.40" y2="323.00" stroke="#222" stroke-width="0.7" />
<text x="434.40" y="333.00" font-size="6.6" text-anchor="middle" fill="#262626" textLength="9.6" lengthAdjust="spacingAndGlyphs" >0.0</text>
<line x1="450.75" y1="321.00" x2="450.75" y2="323.00" stroke="#222" stroke-width="0.7" />
<text x="450.75" y="333.00" font-size="6.6" text-anchor="middle" fill="#262626" textLength="9.6" lengthAdjust="spacingAndGlyphs" >0.5</text>
<line x1="467.10" y1="321.00" x2="467.10" y2="323.00" stroke="#222" stroke-width="0.7" />
<text x="467.10" y="333.00" font-size="6.6" text-anchor="middle" fill="#262626" textLength="9.6" lengthAdjust="spacingAndGlyphs" >1.0</text>
<line x1="483.45" y1="321.00" x2="483.45" y2="323.00" stroke="#222" stroke-width="0.7" />
<text x="483.45" y="333.00" font-size="6.6" text-anchor="middle" fill="#262626" textLength="9.6" lengthAdjust="spacingAndGlyphs" >1.5</text>
<line x1="499.80" y1="321.00" x2="499.80" y2="323.00" stroke="#222" stroke-width="0.7" />
<text x="499.80" y="333.00" font-size="6.6" text-anchor="middle" fill="#262626" textLength="9.6" lengthAdjust="spacingAndGlyphs" >2.0</text>
<line x1="516.15" y1="321.00" x2="516.15" y2="323.00" stroke="#222" stroke-width="0.7" />
<text x="516.15" y="333.00" font-size="6.6" text-anchor="middle" fill="#262626" textLength="9.6" lengthAdjust="spacingAndGlyphs" >2.5</text>
<text x="473.40" y="344.40" font-size="8.2" text-anchor="middle" fill="#262626" stroke="#262626" stroke-width="0.26" textLength="68.3" lengthAdjust="spacingAndGlyphs" >CMV-specific CD3<tspan font-size="4.2" baseline-shift="2.4">+</tspan> T cells</text>
<text x="475.10" y="354.90" font-size="8.2" text-anchor="middle" fill="#262626" stroke="#262626" stroke-width="0.26" textLength="76.4" lengthAdjust="spacingAndGlyphs" >in donor PB (% of total CD3)</text>
<text x="394.00" y="285.10" font-size="7.2" text-anchor="middle" fill="#262626" stroke="#262626" stroke-width="0.26" textLength="52.8" lengthAdjust="spacingAndGlyphs" transform="rotate(-90 394.00 285.10)" >Max CMV-specific</text>
<text x="405.00" y="288.90" font-size="7.2" text-anchor="middle" fill="#262626" stroke="#262626" stroke-width="0.26" textLength="60.4" lengthAdjust="spacingAndGlyphs" transform="rotate(-90 405.00 288.90)" >CD3<tspan font-size="4.2" baseline-shift="2.4">+</tspan> T cells (cells/µL)</text>
<circle cx="435.10" cy="292.30" r="1.30" fill="#c0203a" stroke="none" stroke-width="0.5"/>
<circle cx="436.10" cy="297.20" r="1.30" fill="#c0203a" stroke="none" stroke-width="0.5"/>
<circle cx="444.70" cy="279.10" r="1.30" fill="#c0203a" stroke="none" stroke-width="0.5"/>
<circle cx="445.20" cy="286.30" r="1.30" fill="#c0203a" stroke="none" stroke-width="0.5"/>
<circle cx="446.30" cy="289.00" r="1.30" fill="#c0203a" stroke="none" stroke-width="0.5"/>
<circle cx="448.30" cy="282.50" r="1.30" fill="#c0203a" stroke="none" stroke-width="0.5"/>
<circle cx="448.90" cy="292.10" r="1.30" fill="#c0203a" stroke="none" stroke-width="0.5"/>
<circle cx="462.90" cy="283.70" r="1.30" fill="#c0203a" stroke="none" stroke-width="0.5"/>
<circle cx="466.30" cy="274.90" r="1.30" fill="#c0203a" stroke="none" stroke-width="0.5"/>
<circle cx="468.10" cy="267.70" r="1.30" fill="#c0203a" stroke="none" stroke-width="0.5"/>
<circle cx="471.50" cy="273.40" r="1.30" fill="#c0203a" stroke="none" stroke-width="0.5"/>
<circle cx="505.70" cy="269.50" r="1.30" fill="#c0203a" stroke="none" stroke-width="0.5"/>
<path d="M435.1,290.8 L505.7,262.8" stroke="#222" stroke-width="1.0" fill="none"/>
<path d="M435.1,284.5 Q460,276 499.2,255.2" stroke="#222" stroke-width="1.0" fill="none" stroke-dasharray="2.6,1.4"/>
<path d="M435.1,298.0 Q462,288 505.7,274.7" stroke="#222" stroke-width="1.0" fill="none" stroke-dasharray="2.6,1.4"/>
<text x="485.00" y="306.40" font-size="6.6" text-anchor="start" fill="#262626" textLength="25.5" lengthAdjust="spacingAndGlyphs" >R<tspan font-size="4.2" baseline-shift="2.4">2</tspan> = .639</text>
<text x="485.20" y="314.60" font-size="6.6" text-anchor="start" fill="#262626" textLength="22.5" lengthAdjust="spacingAndGlyphs" ><tspan font-style="italic">P</tspan> = .002</text>
</svg>
</body></html>
